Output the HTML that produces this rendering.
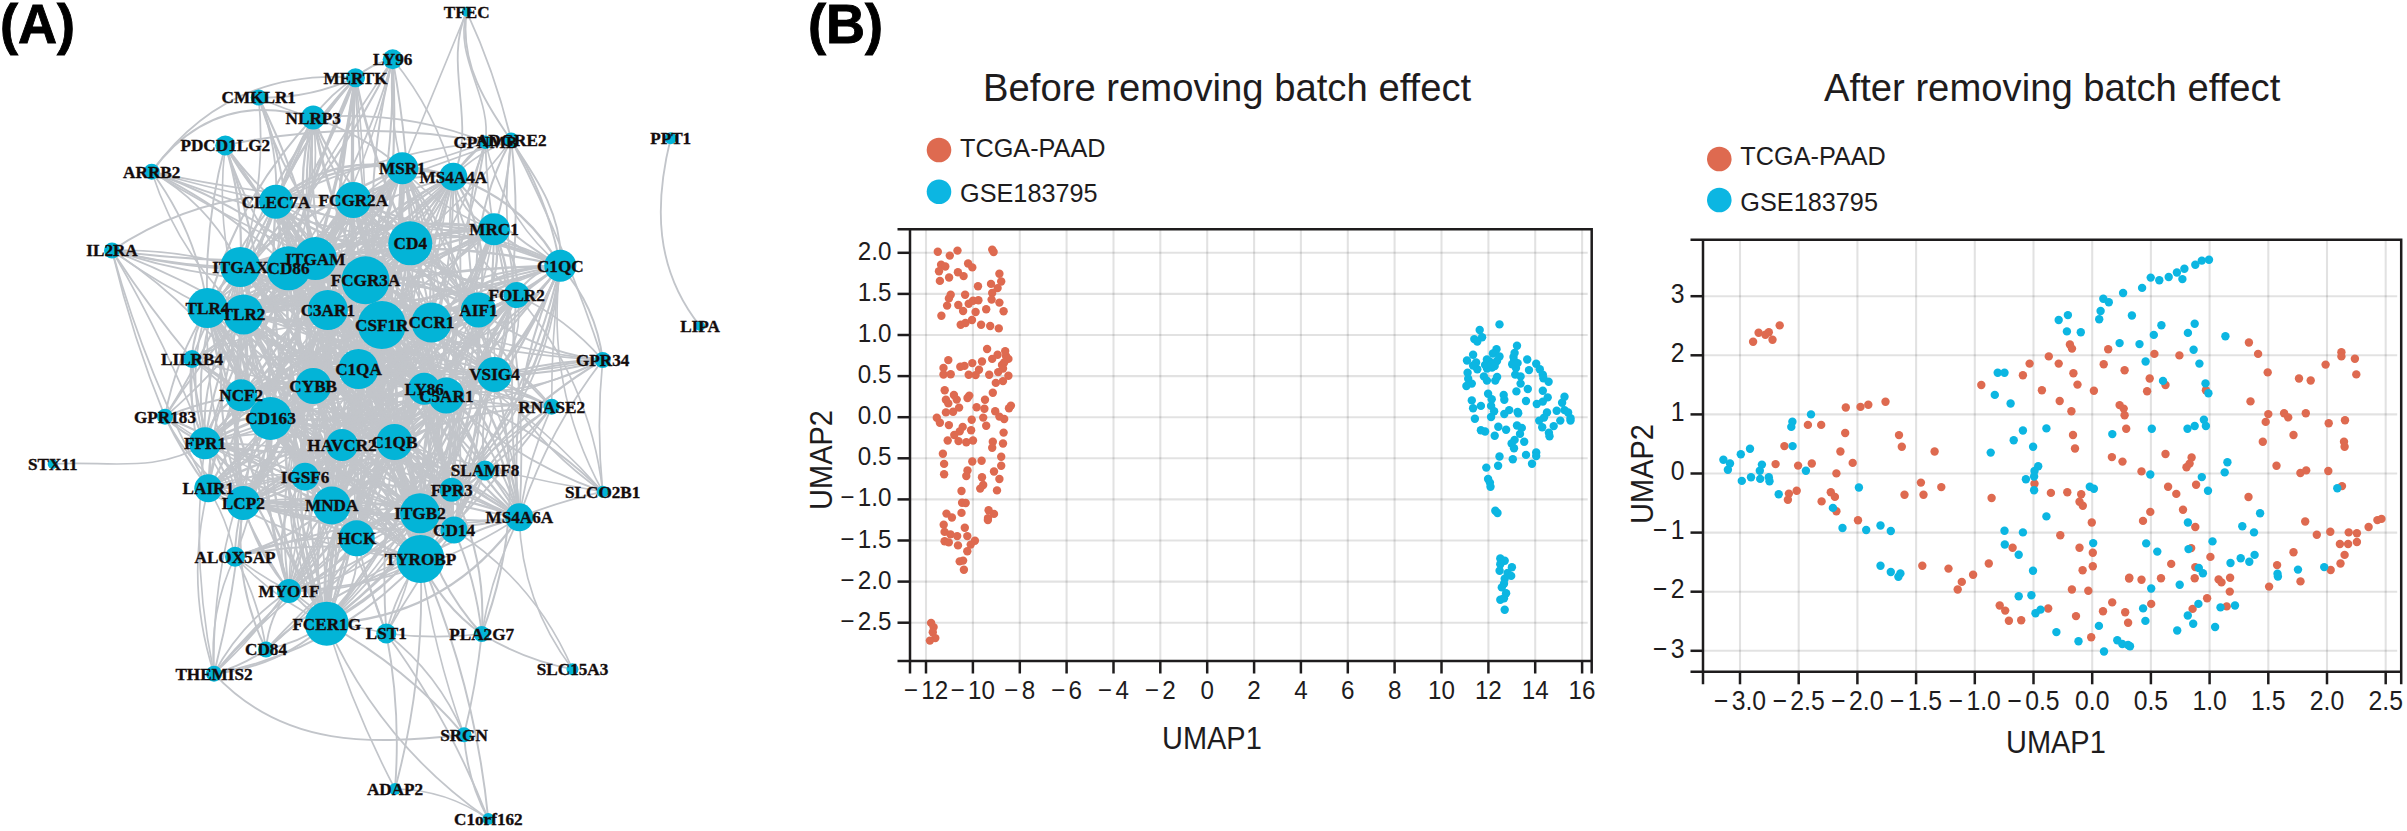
<!DOCTYPE html><html><head><meta charset="utf-8"><style>
html,body{margin:0;padding:0;background:#fff;width:2407px;height:831px;overflow:hidden}
svg{position:absolute;left:0;top:0}
.nl{font-family:"Liberation Serif",serif;font-weight:bold;font-size:17.6px;fill:#140c0c;stroke:#140c0c;stroke-width:0.35}
.pl{font-family:"Liberation Sans",sans-serif;font-size:55.5px;font-weight:bold;fill:#000;stroke:#000;stroke-width:0.9}
.s{font-family:"Liberation Sans",sans-serif;fill:#1e1c1d}
</style></head><body>
<svg width="2407" height="831" viewBox="0 0 2407 831">
<text transform="translate(0,42.6) scale(0.975,1)" class="pl">(A)</text>
<text transform="translate(808,42.6) scale(0.975,1)" class="pl">(B)</text>
<g fill="none" stroke="#c2c5ca" stroke-linecap="round">
<path d="M466.7 11.7Q434.5 90.0 402.3 168.3" stroke-width="1.68"/>
<path d="M466.7 11.7C442.4 65.1 477.6 123.3 453.3 176.7" stroke-width="1.82"/>
<path d="M466.7 11.7C453.4 58.0 492.2 96.8 485.4 142.2" stroke-width="1.66"/>
<path d="M466.7 11.7C452.2 113.2 567.2 167.1 560.3 265.8" stroke-width="1.89"/>
<path d="M466.7 11.7Q495.4 73.6 511.2 140.0" stroke-width="1.72"/>
<path d="M670.7 138.3C654.2 205.0 654.6 269.0 700.0 326.0" stroke-width="1.84"/>
<path d="M52.7 464.0C103.9 460.1 157.5 474.6 205.0 443.3" stroke-width="1.62"/>
<path d="M112.0 250.5Q222.6 177.0 353.3 200.0" stroke-width="2.05"/>
<path d="M112.0 250.5Q175.2 266.4 240.3 267.0" stroke-width="1.71"/>
<path d="M112.0 250.5Q198.8 273.5 288.5 268.3" stroke-width="1.84"/>
<path d="M112.0 250.5Q213.2 264.7 315.3 258.6" stroke-width="2.02"/>
<path d="M112.0 250.5Q235.8 290.8 365.5 280.3" stroke-width="1.83"/>
<path d="M112.0 250.5Q157.4 283.1 207.5 308.0" stroke-width="1.72"/>
<path d="M112.0 250.5Q180.6 276.6 243.5 314.4" stroke-width="1.81"/>
<path d="M112.0 250.5Q148.7 307.1 192.0 359.0" stroke-width="1.88"/>
<path d="M112.0 250.5Q131.9 335.7 165.0 416.7" stroke-width="1.73"/>
<path d="M112.0 250.5Q166.2 343.2 205.0 443.3" stroke-width="1.71"/>
<path d="M112.0 250.5Q145.9 375.2 208.3 488.3" stroke-width="1.76"/>
<path d="M112.0 250.5Q212.0 314.9 270.5 418.5" stroke-width="1.81"/>
<path d="M112.0 250.5Q229.1 246.8 327.8 310.0" stroke-width="1.70"/>
<path d="M151.7 171.7Q213.2 189.2 276.0 201.7" stroke-width="1.69"/>
<path d="M151.7 171.7Q251.4 193.9 353.3 200.0" stroke-width="1.83"/>
<path d="M151.7 171.7Q211.0 205.4 240.3 267.0" stroke-width="1.77"/>
<path d="M151.7 171.7Q197.1 232.7 207.5 308.0" stroke-width="1.90"/>
<path d="M151.7 171.7Q228.0 208.8 288.5 268.3" stroke-width="1.86"/>
<path d="M151.7 171.7Q178.6 255.3 243.5 314.4" stroke-width="1.65"/>
<path d="M151.7 171.7Q285.1 220.9 381.8 325.0" stroke-width="2.00"/>
<path d="M151.7 171.7Q213.5 88.1 313.2 117.6" stroke-width="1.97"/>
<path d="M151.7 171.7Q227.3 67.6 355.5 77.7" stroke-width="1.71"/>
<path d="M151.7 171.7Q277.4 220.4 410.3 243.3" stroke-width="1.86"/>
<path d="M151.7 171.7Q230.7 220.3 315.3 258.6" stroke-width="1.72"/>
<path d="M258.7 97.5Q285.1 109.8 313.2 117.6" stroke-width="1.72"/>
<path d="M258.7 97.5Q278.7 147.7 276.0 201.7" stroke-width="1.88"/>
<path d="M258.7 97.5Q267.0 184.1 240.3 267.0" stroke-width="1.77"/>
<path d="M258.7 97.5Q291.7 179.7 288.5 268.3" stroke-width="2.02"/>
<path d="M258.7 97.5Q309.3 198.5 327.8 310.0" stroke-width="2.06"/>
<path d="M258.7 97.5Q289.4 202.2 365.5 280.3" stroke-width="1.92"/>
<path d="M258.7 97.5Q309.4 99.0 355.5 77.7" stroke-width="1.89"/>
<path d="M225.3 145.4Q247.3 176.5 276.0 201.7" stroke-width="1.88"/>
<path d="M225.3 145.4Q244.1 204.8 240.3 267.0" stroke-width="2.17"/>
<path d="M225.3 145.4Q246.8 212.1 288.5 268.3" stroke-width="1.82"/>
<path d="M225.3 145.4Q214.4 232.1 243.5 314.4" stroke-width="1.61"/>
<path d="M225.3 145.4Q282.4 224.1 327.8 310.0" stroke-width="1.61"/>
<path d="M225.3 145.4Q271.5 278.0 270.5 418.5" stroke-width="2.15"/>
<path d="M225.3 145.4Q262.7 208.1 315.3 258.6" stroke-width="1.64"/>
<path d="M225.3 145.4Q274.8 234.2 365.5 280.3" stroke-width="2.10"/>
<path d="M225.3 145.4Q203.6 225.3 207.5 308.0" stroke-width="1.92"/>
<path d="M485.4 142.2Q465.7 156.1 453.3 176.7" stroke-width="1.68"/>
<path d="M485.4 142.2Q486.3 186.1 494.0 229.3" stroke-width="1.79"/>
<path d="M485.4 142.2Q437.9 185.3 410.3 243.3" stroke-width="1.72"/>
<path d="M485.4 142.2Q469.9 235.8 431.5 322.5" stroke-width="1.95"/>
<path d="M485.4 142.2Q502.5 216.4 560.3 265.8" stroke-width="1.61"/>
<path d="M485.4 142.2Q454.7 245.5 381.8 325.0" stroke-width="1.84"/>
<path d="M485.4 142.2Q455.7 225.0 478.4 310.0" stroke-width="1.90"/>
<path d="M485.4 142.2Q402.3 109.2 313.2 117.6" stroke-width="1.80"/>
<path d="M485.4 142.2Q355.0 117.8 225.3 145.4" stroke-width="1.96"/>
<path d="M485.4 142.2Q444.8 158.2 402.3 168.3" stroke-width="1.69"/>
<path d="M511.2 140.0Q478.2 152.0 453.3 176.7" stroke-width="1.68"/>
<path d="M511.2 140.0Q508.0 185.7 494.0 229.3" stroke-width="1.97"/>
<path d="M511.2 140.0Q468.2 199.0 410.3 243.3" stroke-width="1.69"/>
<path d="M511.2 140.0Q548.1 198.1 560.3 265.8" stroke-width="1.95"/>
<path d="M511.2 140.0Q467.9 219.8 478.4 310.0" stroke-width="2.00"/>
<path d="M511.2 140.0Q499.8 218.0 516.7 295.0" stroke-width="1.76"/>
<path d="M511.2 140.0Q525.3 258.8 494.5 374.5" stroke-width="1.92"/>
<path d="M511.2 140.0Q387.4 147.3 276.0 201.7" stroke-width="1.62"/>
<path d="M511.2 140.0Q429.9 163.7 353.3 200.0" stroke-width="1.83"/>
<path d="M511.2 140.0Q565.8 246.3 602.7 360.0" stroke-width="1.75"/>
<path d="M192.0 359.0Q193.0 331.4 207.5 308.0" stroke-width="2.04"/>
<path d="M192.0 359.0Q223.3 343.1 243.5 314.4" stroke-width="1.63"/>
<path d="M192.0 359.0Q185.4 403.2 205.0 443.3" stroke-width="1.93"/>
<path d="M192.0 359.0Q235.7 382.9 270.5 418.5" stroke-width="2.03"/>
<path d="M192.0 359.0Q218.1 375.2 241.2 395.3" stroke-width="1.68"/>
<path d="M192.0 359.0Q209.8 309.7 240.3 267.0" stroke-width="1.78"/>
<path d="M192.0 359.0Q281.8 313.8 381.8 325.0" stroke-width="1.73"/>
<path d="M192.0 359.0Q188.2 425.2 208.3 488.3" stroke-width="1.86"/>
<path d="M192.0 359.0Q276.1 350.5 358.5 369.0" stroke-width="2.10"/>
<path d="M192.0 359.0Q197.4 438.2 243.3 503.0" stroke-width="2.02"/>
<path d="M192.0 359.0Q253.2 327.4 288.5 268.3" stroke-width="1.87"/>
<path d="M192.0 359.0Q251.2 378.6 313.2 386.0" stroke-width="1.61"/>
<path d="M192.0 359.0Q271.7 422.8 331.7 505.5" stroke-width="1.76"/>
<path d="M165.0 416.7Q182.3 434.0 205.0 443.3" stroke-width="1.95"/>
<path d="M165.0 416.7Q183.1 454.7 208.3 488.3" stroke-width="2.01"/>
<path d="M165.0 416.7Q175.5 358.2 207.5 308.0" stroke-width="1.85"/>
<path d="M165.0 416.7Q218.0 403.8 270.5 418.5" stroke-width="1.88"/>
<path d="M165.0 416.7Q201.9 401.6 241.2 395.3" stroke-width="1.96"/>
<path d="M165.0 416.7Q192.1 470.8 243.3 503.0" stroke-width="1.71"/>
<path d="M165.0 416.7Q210.2 345.6 240.3 267.0" stroke-width="2.04"/>
<path d="M165.0 416.7Q239.3 353.0 288.5 268.3" stroke-width="1.84"/>
<path d="M165.0 416.7Q200.0 362.3 243.5 314.4" stroke-width="1.87"/>
<path d="M165.0 416.7Q243.2 470.8 331.7 505.5" stroke-width="1.62"/>
<path d="M165.0 416.7Q288.5 475.6 420.0 513.3" stroke-width="1.77"/>
<path d="M165.0 416.7Q271.6 460.6 356.7 538.3" stroke-width="1.68"/>
<path d="M602.7 360.0Q596.2 306.3 560.3 265.8" stroke-width="1.99"/>
<path d="M602.7 360.0Q566.6 318.4 516.7 295.0" stroke-width="1.87"/>
<path d="M602.7 360.0Q533.8 351.8 478.4 310.0" stroke-width="2.02"/>
<path d="M602.7 360.0Q549.8 376.0 494.5 374.5" stroke-width="1.87"/>
<path d="M602.7 360.0Q515.0 351.0 431.5 322.5" stroke-width="1.64"/>
<path d="M602.7 360.0Q481.3 383.8 358.5 369.0" stroke-width="1.66"/>
<path d="M602.7 360.0Q547.5 431.5 519.3 517.3" stroke-width="1.81"/>
<path d="M602.7 360.0Q596.1 425.9 602.7 491.7" stroke-width="1.73"/>
<path d="M602.7 360.0Q520.6 360.6 446.3 395.6" stroke-width="2.01"/>
<path d="M602.7 360.0Q490.5 353.6 381.8 325.0" stroke-width="1.83"/>
<path d="M602.7 360.0Q485.1 366.6 394.5 442.0" stroke-width="1.89"/>
<path d="M602.7 360.0Q518.1 403.4 424.1 388.7" stroke-width="1.74"/>
<path d="M602.7 360.0Q481.5 432.0 420.5 559.0" stroke-width="2.04"/>
<path d="M602.7 360.0Q444.1 431.8 270.5 418.5" stroke-width="1.61"/>
<path d="M551.7 406.7Q521.0 394.3 494.5 374.5" stroke-width="1.66"/>
<path d="M551.7 406.7Q498.5 406.2 446.3 395.6" stroke-width="1.96"/>
<path d="M551.7 406.7Q527.9 459.8 519.3 517.3" stroke-width="1.75"/>
<path d="M551.7 406.7Q483.3 452.8 454.0 530.0" stroke-width="2.00"/>
<path d="M551.7 406.7Q503.7 347.3 431.5 322.5" stroke-width="1.71"/>
<path d="M551.7 406.7Q505.7 365.4 478.4 310.0" stroke-width="1.82"/>
<path d="M551.7 406.7Q551.2 336.0 560.3 265.8" stroke-width="1.62"/>
<path d="M551.7 406.7Q496.5 441.9 451.7 489.7" stroke-width="1.64"/>
<path d="M551.7 406.7Q460.9 358.2 358.5 369.0" stroke-width="1.80"/>
<path d="M551.7 406.7Q455.0 390.2 381.8 325.0" stroke-width="1.74"/>
<path d="M551.7 406.7Q433.8 381.3 313.2 386.0" stroke-width="1.60"/>
<path d="M551.7 406.7Q441.9 399.0 342.0 445.0" stroke-width="1.76"/>
<path d="M551.7 406.7Q490.7 377.6 424.1 388.7" stroke-width="2.01"/>
<path d="M551.7 406.7Q469.5 408.5 394.5 442.0" stroke-width="2.04"/>
<path d="M551.7 406.7Q492.5 488.4 420.5 559.0" stroke-width="1.91"/>
<path d="M551.7 406.7Q496.6 473.2 420.0 513.3" stroke-width="1.77"/>
<path d="M602.7 491.7Q560.0 501.4 519.3 517.3" stroke-width="1.79"/>
<path d="M602.7 491.7Q544.8 385.6 560.3 265.8" stroke-width="1.65"/>
<path d="M602.7 491.7Q590.0 380.1 516.7 295.0" stroke-width="1.71"/>
<path d="M602.7 491.7Q535.8 444.9 494.5 374.5" stroke-width="1.86"/>
<path d="M602.7 491.7Q496.8 474.4 394.5 442.0" stroke-width="1.60"/>
<path d="M602.7 491.7Q500.2 391.3 358.5 369.0" stroke-width="1.86"/>
<path d="M602.7 491.7Q513.8 461.0 446.3 395.6" stroke-width="1.84"/>
<path d="M602.7 491.7Q509.2 385.9 381.8 325.0" stroke-width="1.62"/>
<path d="M235.0 556.7Q235.2 529.2 243.3 503.0" stroke-width="1.90"/>
<path d="M235.0 556.7Q227.6 520.2 208.3 488.3" stroke-width="1.61"/>
<path d="M235.0 556.7Q288.4 540.6 331.7 505.5" stroke-width="2.18"/>
<path d="M235.0 556.7Q274.4 599.1 326.7 623.7" stroke-width="1.62"/>
<path d="M235.0 556.7Q328.0 535.1 420.5 559.0" stroke-width="2.04"/>
<path d="M235.0 556.7Q293.8 534.2 356.7 538.3" stroke-width="2.08"/>
<path d="M235.0 556.7Q260.6 576.0 289.0 591.0" stroke-width="1.65"/>
<path d="M235.0 556.7Q260.6 489.6 270.5 418.5" stroke-width="1.78"/>
<path d="M235.0 556.7Q326.2 529.4 420.0 513.3" stroke-width="1.92"/>
<path d="M235.0 556.7Q208.5 612.3 214.0 673.7" stroke-width="1.67"/>
<path d="M266.0 649.5Q299.0 642.8 326.7 623.7" stroke-width="2.00"/>
<path d="M266.0 649.5Q333.3 587.2 420.5 559.0" stroke-width="1.97"/>
<path d="M266.0 649.5Q231.9 579.8 243.3 503.0" stroke-width="1.94"/>
<path d="M266.0 649.5Q259.0 600.3 235.0 556.7" stroke-width="1.73"/>
<path d="M266.0 649.5Q268.7 616.8 289.0 591.0" stroke-width="1.91"/>
<path d="M266.0 649.5Q336.4 573.9 420.0 513.3" stroke-width="1.74"/>
<path d="M266.0 649.5Q324.0 604.2 356.7 538.3" stroke-width="1.76"/>
<path d="M266.0 649.5Q242.1 666.1 214.0 673.7" stroke-width="2.02"/>
<path d="M214.0 673.7Q235.4 589.5 243.3 503.0" stroke-width="1.88"/>
<path d="M214.0 673.7Q184.5 581.8 208.3 488.3" stroke-width="1.71"/>
<path d="M214.0 673.7Q241.0 622.8 289.0 591.0" stroke-width="1.85"/>
<path d="M214.0 673.7Q278.6 667.3 326.7 623.7" stroke-width="2.00"/>
<path d="M214.0 673.7Q336.4 650.9 420.5 559.0" stroke-width="1.86"/>
<path d="M214.0 673.7Q277.5 597.7 356.7 538.3" stroke-width="1.94"/>
<path d="M214.0 673.7C283.9 749.1 373.3 744.4 464.0 734.8" stroke-width="1.92"/>
<path d="M214.0 673.7Q301.4 573.5 420.0 513.3" stroke-width="1.77"/>
<path d="M214.0 673.7Q292.1 603.1 331.7 505.5" stroke-width="1.62"/>
<path d="M214.0 673.7Q210.5 539.1 270.5 418.5" stroke-width="1.70"/>
<path d="M214.0 673.7Q190.0 559.3 205.0 443.3" stroke-width="1.64"/>
<path d="M386.3 633.5Q357.0 625.8 326.7 623.7" stroke-width="1.62"/>
<path d="M386.3 633.5Q395.8 592.8 420.5 559.0" stroke-width="1.85"/>
<path d="M386.3 633.5Q367.9 587.0 356.7 538.3" stroke-width="1.82"/>
<path d="M386.3 633.5Q415.7 576.9 420.0 513.3" stroke-width="1.70"/>
<path d="M386.3 633.5Q364.5 567.1 331.7 505.5" stroke-width="1.86"/>
<path d="M386.3 633.5Q416.8 579.6 454.0 530.0" stroke-width="1.82"/>
<path d="M386.3 633.5Q379.9 537.3 394.5 442.0" stroke-width="1.92"/>
<path d="M386.3 633.5Q434.0 639.6 481.7 634.0" stroke-width="1.71"/>
<path d="M386.3 633.5Q438.6 673.8 464.0 734.8" stroke-width="1.62"/>
<path d="M386.3 633.5Q449.4 719.6 488.3 819.0" stroke-width="1.83"/>
<path d="M481.7 634.0Q440.7 605.0 420.5 559.0" stroke-width="1.94"/>
<path d="M481.7 634.0Q434.2 582.2 420.0 513.3" stroke-width="1.95"/>
<path d="M481.7 634.0Q476.0 579.8 454.0 530.0" stroke-width="1.86"/>
<path d="M481.7 634.0Q491.8 572.8 519.3 517.3" stroke-width="1.75"/>
<path d="M481.7 634.0Q487.0 557.6 451.7 489.7" stroke-width="2.03"/>
<path d="M481.7 634.0Q523.9 659.9 572.5 669.2" stroke-width="1.93"/>
<path d="M481.7 634.0Q476.3 685.0 464.0 734.8" stroke-width="1.87"/>
<path d="M481.7 634.0Q530.5 506.3 494.5 374.5" stroke-width="2.04"/>
<path d="M572.5 669.2Q521.5 601.8 519.3 517.3" stroke-width="1.67"/>
<path d="M572.5 669.2Q534.7 581.3 454.0 530.0" stroke-width="1.67"/>
<path d="M464.0 734.8Q433.5 649.1 420.5 559.0" stroke-width="1.67"/>
<path d="M464.0 734.8Q466.9 779.6 488.3 819.0" stroke-width="1.93"/>
<path d="M464.0 734.8Q405.6 666.6 326.7 623.7" stroke-width="1.98"/>
<path d="M395.0 789.0Q353.4 709.4 326.7 623.7" stroke-width="1.67"/>
<path d="M395.0 789.0Q401.2 710.7 386.3 633.5" stroke-width="1.89"/>
<path d="M395.0 789.0Q446.3 789.6 488.3 819.0" stroke-width="1.69"/>
<path d="M395.0 789.0Q425.5 676.0 420.5 559.0" stroke-width="1.88"/>
<path d="M488.3 819.0Q474.8 683.7 420.5 559.0" stroke-width="1.94"/>
<path d="M488.3 819.0Q380.4 743.8 326.7 623.7" stroke-width="1.76"/>
<path d="M355.5 77.7Q350.7 138.8 353.3 200.0" stroke-width="3.20"/>
<path d="M355.5 77.7Q312.5 169.7 288.5 268.3" stroke-width="3.00"/>
<path d="M355.5 77.7Q342.6 169.8 315.3 258.6" stroke-width="3.20"/>
<path d="M355.5 77.7Q305.6 133.2 276.0 201.7" stroke-width="2.13"/>
<path d="M355.5 77.7Q330.4 93.4 313.2 117.6" stroke-width="1.87"/>
<path d="M355.5 77.7Q265.8 180.1 243.5 314.4" stroke-width="1.79"/>
<path d="M355.5 77.7Q276.7 159.4 240.3 267.0" stroke-width="2.11"/>
<path d="M355.5 77.7Q309.0 210.6 207.5 308.0" stroke-width="2.03"/>
<path d="M355.5 77.7Q337.0 193.3 327.8 310.0" stroke-width="2.80"/>
<path d="M355.5 77.7Q368.1 178.6 365.5 280.3" stroke-width="1.62"/>
<path d="M355.5 77.7Q373.0 163.8 410.3 243.3" stroke-width="2.60"/>
<path d="M355.5 77.7Q359.7 202.3 381.8 325.0" stroke-width="1.88"/>
<path d="M355.5 77.7Q345.6 223.5 358.5 369.0" stroke-width="1.75"/>
<path d="M355.5 77.7Q371.6 63.5 392.7 59.3" stroke-width="2.05"/>
<path d="M392.7 59.3Q409.3 150.6 410.3 243.3" stroke-width="1.93"/>
<path d="M392.7 59.3Q388.3 114.6 402.3 168.3" stroke-width="1.64"/>
<path d="M392.7 59.3Q322.5 200.3 207.5 308.0" stroke-width="2.00"/>
<path d="M392.7 59.3Q310.1 182.2 243.5 314.4" stroke-width="1.67"/>
<path d="M392.7 59.3Q361.5 174.2 288.5 268.3" stroke-width="1.81"/>
<path d="M392.7 59.3Q394.2 171.7 365.5 280.3" stroke-width="1.94"/>
<path d="M392.7 59.3Q358.9 191.0 381.8 325.0" stroke-width="1.96"/>
<path d="M392.7 59.3Q370.6 165.4 315.3 258.6" stroke-width="1.61"/>
<path d="M392.7 59.3Q435.7 111.5 453.3 176.7" stroke-width="1.72"/>
<path d="M392.7 59.3Q401.8 217.0 358.5 369.0" stroke-width="2.13"/>
<path d="M313.2 117.6Q290.3 157.8 276.0 201.7" stroke-width="1.72"/>
<path d="M313.2 117.6Q324.9 162.9 353.3 200.0" stroke-width="1.84"/>
<path d="M313.2 117.6Q282.1 194.9 240.3 267.0" stroke-width="2.06"/>
<path d="M313.2 117.6Q323.2 196.6 288.5 268.3" stroke-width="1.71"/>
<path d="M313.2 117.6Q291.3 188.4 315.3 258.6" stroke-width="2.26"/>
<path d="M313.2 117.6Q264.3 211.0 243.5 314.4" stroke-width="1.93"/>
<path d="M313.2 117.6Q236.3 199.4 207.5 308.0" stroke-width="2.09"/>
<path d="M313.2 117.6Q294.9 215.7 327.8 310.0" stroke-width="2.06"/>
<path d="M313.2 117.6Q334.3 225.7 381.8 325.0" stroke-width="2.06"/>
<path d="M313.2 117.6Q344.5 193.8 410.3 243.3" stroke-width="2.26"/>
<path d="M313.2 117.6Q327.0 202.9 365.5 280.3" stroke-width="1.97"/>
<path d="M313.2 117.6Q302.8 251.8 313.2 386.0" stroke-width="2.19"/>
<path d="M313.2 117.6Q304.0 249.0 358.5 369.0" stroke-width="2.05"/>
<path d="M313.2 117.6Q362.7 134.3 402.3 168.3" stroke-width="1.66"/>
<path d="M485.0 470.5Q456.1 497.4 420.0 513.3" stroke-width="2.03"/>
<path d="M485.0 470.5Q466.6 524.9 420.5 559.0" stroke-width="1.99"/>
<path d="M485.0 470.5Q463.4 497.1 454.0 530.0" stroke-width="1.86"/>
<path d="M485.0 470.5Q465.9 475.9 451.7 489.7" stroke-width="1.64"/>
<path d="M485.0 470.5Q509.1 488.8 519.3 517.3" stroke-width="1.92"/>
<path d="M485.0 470.5Q470.8 430.4 446.3 395.6" stroke-width="2.00"/>
<path d="M485.0 470.5Q477.8 421.3 494.5 374.5" stroke-width="1.90"/>
<path d="M485.0 470.5Q437.6 463.2 394.5 442.0" stroke-width="1.87"/>
<path d="M485.0 470.5Q411.5 468.9 342.0 445.0" stroke-width="1.94"/>
<path d="M485.0 470.5Q451.3 385.1 381.8 325.0" stroke-width="1.80"/>
<path d="M485.0 470.5Q423.6 565.4 326.7 623.7" stroke-width="1.63"/>
<path d="M485.0 470.5Q466.0 421.1 424.1 388.7" stroke-width="1.94"/>
<path d="M402.3 168.3Q428.4 168.6 453.3 176.7" stroke-width="1.77"/>
<path d="M402.3 168.3Q330.8 153.6 276.0 201.7" stroke-width="2.49"/>
<path d="M402.3 168.3Q384.4 194.4 353.3 200.0" stroke-width="1.63"/>
<path d="M402.3 168.3Q440.4 210.5 494.0 229.3" stroke-width="1.69"/>
<path d="M402.3 168.3Q426.9 203.6 410.3 243.3" stroke-width="2.09"/>
<path d="M402.3 168.3Q507.4 174.8 560.3 265.8" stroke-width="2.29"/>
<path d="M402.3 168.3Q313.5 204.9 240.3 267.0" stroke-width="2.34"/>
<path d="M402.3 168.3Q371.7 248.3 288.5 268.3" stroke-width="2.17"/>
<path d="M402.3 168.3Q344.8 199.9 315.3 258.6" stroke-width="1.63"/>
<path d="M402.3 168.3Q411.1 233.2 365.5 280.3" stroke-width="2.52"/>
<path d="M402.3 168.3Q320.6 260.0 207.5 308.0" stroke-width="2.38"/>
<path d="M402.3 168.3Q343.2 263.4 243.5 314.4" stroke-width="2.18"/>
<path d="M402.3 168.3Q343.5 227.8 327.8 310.0" stroke-width="1.94"/>
<path d="M402.3 168.3Q356.2 242.0 381.8 325.0" stroke-width="2.07"/>
<path d="M402.3 168.3Q390.1 250.5 431.5 322.5" stroke-width="1.90"/>
<path d="M402.3 168.3Q421.0 249.5 478.4 310.0" stroke-width="1.66"/>
<path d="M402.3 168.3Q461.3 265.6 494.5 374.5" stroke-width="1.82"/>
<path d="M402.3 168.3Q322.4 262.7 313.2 386.0" stroke-width="2.30"/>
<path d="M402.3 168.3Q396.4 287.4 446.3 395.6" stroke-width="2.29"/>
<path d="M402.3 168.3Q286.3 267.0 270.5 418.5" stroke-width="1.71"/>
<path d="M402.3 168.3Q319.9 317.5 205.0 443.3" stroke-width="2.21"/>
<path d="M402.3 168.3Q399.4 312.6 342.0 445.0" stroke-width="1.72"/>
<path d="M402.3 168.3Q439.4 306.3 394.5 442.0" stroke-width="1.96"/>
<path d="M402.3 168.3Q344.4 352.0 208.3 488.3" stroke-width="1.83"/>
<path d="M402.3 168.3Q441.4 352.5 331.7 505.5" stroke-width="1.82"/>
<path d="M402.3 168.3Q477.7 337.4 420.0 513.3" stroke-width="1.61"/>
<path d="M402.3 168.3Q378.4 370.4 519.3 517.3" stroke-width="1.66"/>
<path d="M402.3 168.3Q526.6 335.1 454.0 530.0" stroke-width="2.07"/>
<path d="M402.3 168.3Q344.2 348.9 356.7 538.3" stroke-width="1.92"/>
<path d="M402.3 168.3Q498.8 359.6 420.5 559.0" stroke-width="2.22"/>
<path d="M402.3 168.3Q391.4 400.5 326.7 623.7" stroke-width="2.22"/>
<path d="M453.3 176.7Q358.5 145.8 276.0 201.7" stroke-width="2.15"/>
<path d="M453.3 176.7Q399.5 172.2 353.3 200.0" stroke-width="2.07"/>
<path d="M453.3 176.7Q459.2 214.2 494.0 229.3" stroke-width="1.88"/>
<path d="M453.3 176.7Q438.1 214.0 410.3 243.3" stroke-width="2.10"/>
<path d="M453.3 176.7Q499.4 230.2 560.3 265.8" stroke-width="2.10"/>
<path d="M453.3 176.7Q367.1 269.7 240.3 267.0" stroke-width="2.26"/>
<path d="M453.3 176.7Q358.5 200.1 288.5 268.3" stroke-width="1.75"/>
<path d="M453.3 176.7Q405.4 253.2 315.3 258.6" stroke-width="1.69"/>
<path d="M453.3 176.7Q382.6 205.8 365.5 280.3" stroke-width="1.85"/>
<path d="M453.3 176.7Q368.3 275.8 243.5 314.4" stroke-width="2.11"/>
<path d="M453.3 176.7Q435.5 259.5 381.8 325.0" stroke-width="1.95"/>
<path d="M453.3 176.7Q434.4 248.4 431.5 322.5" stroke-width="1.63"/>
<path d="M453.3 176.7Q493.1 238.2 478.4 310.0" stroke-width="2.30"/>
<path d="M453.3 176.7Q459.4 249.6 516.7 295.0" stroke-width="1.81"/>
<path d="M453.3 176.7Q394.8 267.4 358.5 369.0" stroke-width="2.36"/>
<path d="M453.3 176.7Q437.6 283.2 494.5 374.5" stroke-width="1.69"/>
<path d="M453.3 176.7Q349.1 258.5 313.2 386.0" stroke-width="1.70"/>
<path d="M453.3 176.7Q410.9 284.9 446.3 395.6" stroke-width="2.07"/>
<path d="M453.3 176.7Q297.8 249.2 270.5 418.5" stroke-width="2.41"/>
<path d="M453.3 176.7Q268.2 288.3 243.3 503.0" stroke-width="2.32"/>
<path d="M453.3 176.7Q377.8 339.2 420.0 513.3" stroke-width="1.76"/>
<path d="M453.3 176.7Q454.6 416.9 289.0 591.0" stroke-width="1.97"/>
<path d="M453.3 176.7Q491.3 428.9 326.7 623.7" stroke-width="1.82"/>
<path d="M276.0 201.7Q314.9 213.2 353.3 200.0" stroke-width="1.64"/>
<path d="M276.0 201.7Q382.5 235.2 494.0 229.3" stroke-width="1.72"/>
<path d="M276.0 201.7Q332.8 255.8 410.3 243.3" stroke-width="2.30"/>
<path d="M276.0 201.7Q422.4 214.8 560.3 265.8" stroke-width="1.75"/>
<path d="M276.0 201.7Q269.3 240.4 240.3 267.0" stroke-width="1.77"/>
<path d="M276.0 201.7Q288.7 233.8 288.5 268.3" stroke-width="2.02"/>
<path d="M276.0 201.7Q303.3 224.9 315.3 258.6" stroke-width="1.85"/>
<path d="M276.0 201.7Q306.0 257.8 365.5 280.3" stroke-width="1.66"/>
<path d="M276.0 201.7Q256.8 264.6 207.5 308.0" stroke-width="1.86"/>
<path d="M276.0 201.7Q290.4 266.9 243.5 314.4" stroke-width="1.92"/>
<path d="M276.0 201.7Q308.1 252.9 327.8 310.0" stroke-width="1.93"/>
<path d="M276.0 201.7Q318.9 271.9 381.8 325.0" stroke-width="1.81"/>
<path d="M276.0 201.7Q364.9 247.8 431.5 322.5" stroke-width="1.75"/>
<path d="M276.0 201.7Q393.3 225.7 478.4 310.0" stroke-width="1.74"/>
<path d="M276.0 201.7Q284.3 301.6 358.5 369.0" stroke-width="2.52"/>
<path d="M276.0 201.7Q311.8 290.4 313.2 386.0" stroke-width="2.07"/>
<path d="M276.0 201.7Q338.0 304.8 424.1 388.7" stroke-width="2.41"/>
<path d="M276.0 201.7Q326.9 328.7 446.3 395.6" stroke-width="2.50"/>
<path d="M276.0 201.7Q182.8 305.6 205.0 443.3" stroke-width="1.99"/>
<path d="M276.0 201.7Q357.6 310.2 342.0 445.0" stroke-width="2.10"/>
<path d="M276.0 201.7Q378.5 300.5 394.5 442.0" stroke-width="1.69"/>
<path d="M276.0 201.7Q264.3 342.0 305.0 476.7" stroke-width="2.29"/>
<path d="M276.0 201.7Q216.2 347.6 243.3 503.0" stroke-width="2.04"/>
<path d="M276.0 201.7Q320.9 350.5 331.7 505.5" stroke-width="2.26"/>
<path d="M276.0 201.7Q396.7 335.0 420.0 513.3" stroke-width="2.27"/>
<path d="M276.0 201.7Q331.2 410.8 519.3 517.3" stroke-width="1.85"/>
<path d="M276.0 201.7Q380.7 367.2 420.5 559.0" stroke-width="2.57"/>
<path d="M276.0 201.7Q365.7 405.0 326.7 623.7" stroke-width="1.99"/>
<path d="M353.3 200.0Q420.3 230.6 494.0 229.3" stroke-width="1.95"/>
<path d="M353.3 200.0Q392.7 207.3 410.3 243.3" stroke-width="2.38"/>
<path d="M353.3 200.0Q311.4 258.2 240.3 267.0" stroke-width="2.18"/>
<path d="M353.3 200.0Q333.6 246.2 288.5 268.3" stroke-width="2.65"/>
<path d="M353.3 200.0Q323.9 222.6 315.3 258.6" stroke-width="2.36"/>
<path d="M353.3 200.0Q353.5 241.1 365.5 280.3" stroke-width="1.88"/>
<path d="M353.3 200.0Q307.2 290.2 207.5 308.0" stroke-width="2.24"/>
<path d="M353.3 200.0Q321.0 278.9 243.5 314.4" stroke-width="2.40"/>
<path d="M353.3 200.0Q314.1 248.9 327.8 310.0" stroke-width="1.90"/>
<path d="M353.3 200.0Q401.1 254.8 381.8 325.0" stroke-width="2.21"/>
<path d="M353.3 200.0Q362.7 280.2 431.5 322.5" stroke-width="2.43"/>
<path d="M353.3 200.0Q427.6 241.6 478.4 310.0" stroke-width="2.13"/>
<path d="M353.3 200.0Q418.1 276.5 516.7 295.0" stroke-width="1.72"/>
<path d="M353.3 200.0Q400.3 283.1 358.5 369.0" stroke-width="1.77"/>
<path d="M353.3 200.0Q438.4 275.5 494.5 374.5" stroke-width="2.48"/>
<path d="M353.3 200.0Q342.8 295.1 313.2 386.0" stroke-width="1.89"/>
<path d="M353.3 200.0Q406.9 287.5 424.1 388.7" stroke-width="2.01"/>
<path d="M353.3 200.0Q385.1 304.8 446.3 395.6" stroke-width="2.44"/>
<path d="M353.3 200.0Q313.4 306.9 241.2 395.3" stroke-width="2.45"/>
<path d="M353.3 200.0Q280.9 297.5 270.5 418.5" stroke-width="1.87"/>
<path d="M353.3 200.0Q392.7 324.6 342.0 445.0" stroke-width="2.44"/>
<path d="M353.3 200.0Q392.7 317.8 394.5 442.0" stroke-width="2.37"/>
<path d="M353.3 200.0Q354.9 342.8 305.0 476.7" stroke-width="2.02"/>
<path d="M353.3 200.0Q241.4 324.4 208.3 488.3" stroke-width="2.02"/>
<path d="M353.3 200.0Q336.7 367.2 451.7 489.7" stroke-width="2.05"/>
<path d="M353.3 200.0Q352.5 371.2 243.3 503.0" stroke-width="1.67"/>
<path d="M353.3 200.0Q394.9 380.3 519.3 517.3" stroke-width="1.73"/>
<path d="M353.3 200.0Q486.3 339.8 454.0 530.0" stroke-width="1.82"/>
<path d="M353.3 200.0Q306.2 369.6 356.7 538.3" stroke-width="1.71"/>
<path d="M353.3 200.0Q478.3 362.4 420.5 559.0" stroke-width="1.70"/>
<path d="M353.3 200.0Q417.9 411.4 289.0 591.0" stroke-width="1.77"/>
<path d="M353.3 200.0Q232.2 405.1 326.7 623.7" stroke-width="2.55"/>
<path d="M494.0 229.3Q451.1 230.2 410.3 243.3" stroke-width="1.66"/>
<path d="M494.0 229.3Q523.5 254.1 560.3 265.8" stroke-width="2.15"/>
<path d="M494.0 229.3Q370.4 270.1 240.3 267.0" stroke-width="2.32"/>
<path d="M494.0 229.3Q398.8 208.3 315.3 258.6" stroke-width="1.70"/>
<path d="M494.0 229.3Q434.5 266.7 365.5 280.3" stroke-width="2.13"/>
<path d="M494.0 229.3Q333.0 203.9 207.5 308.0" stroke-width="1.99"/>
<path d="M494.0 229.3Q374.8 289.7 243.5 314.4" stroke-width="2.50"/>
<path d="M494.0 229.3Q389.8 226.2 327.8 310.0" stroke-width="2.46"/>
<path d="M494.0 229.3Q438.5 259.7 431.5 322.5" stroke-width="2.47"/>
<path d="M494.0 229.3Q504.5 273.2 478.4 310.0" stroke-width="2.25"/>
<path d="M494.0 229.3Q520.4 256.9 516.7 295.0" stroke-width="2.23"/>
<path d="M494.0 229.3Q394.1 267.9 358.5 369.0" stroke-width="2.37"/>
<path d="M494.0 229.3Q524.1 301.8 494.5 374.5" stroke-width="2.41"/>
<path d="M494.0 229.3Q469.5 313.6 424.1 388.7" stroke-width="2.10"/>
<path d="M494.0 229.3Q377.2 326.9 241.2 395.3" stroke-width="1.84"/>
<path d="M494.0 229.3Q429.9 380.2 270.5 418.5" stroke-width="2.05"/>
<path d="M494.0 229.3Q430.8 423.1 243.3 503.0" stroke-width="1.71"/>
<path d="M494.0 229.3Q434.6 380.2 331.7 505.5" stroke-width="1.84"/>
<path d="M494.0 229.3Q422.5 362.3 420.0 513.3" stroke-width="2.29"/>
<path d="M494.0 229.3Q528.8 371.4 519.3 517.3" stroke-width="1.86"/>
<path d="M494.0 229.3Q491.4 382.0 454.0 530.0" stroke-width="2.07"/>
<path d="M494.0 229.3Q464.4 401.1 356.7 538.3" stroke-width="1.64"/>
<path d="M494.0 229.3Q423.0 386.5 420.5 559.0" stroke-width="2.01"/>
<path d="M410.3 243.3Q489.9 223.9 560.3 265.8" stroke-width="1.90"/>
<path d="M410.3 243.3Q322.8 237.2 240.3 267.0" stroke-width="2.33"/>
<path d="M410.3 243.3Q350.8 262.5 288.5 268.3" stroke-width="2.70"/>
<path d="M410.3 243.3Q363.7 256.4 315.3 258.6" stroke-width="1.64"/>
<path d="M410.3 243.3Q378.2 250.1 365.5 280.3" stroke-width="1.95"/>
<path d="M410.3 243.3Q319.3 308.2 207.5 308.0" stroke-width="2.04"/>
<path d="M410.3 243.3Q322.4 268.3 243.5 314.4" stroke-width="2.45"/>
<path d="M410.3 243.3Q380.3 290.6 327.8 310.0" stroke-width="2.59"/>
<path d="M410.3 243.3Q379.9 278.5 381.8 325.0" stroke-width="1.91"/>
<path d="M410.3 243.3Q441.7 277.3 431.5 322.5" stroke-width="1.85"/>
<path d="M410.3 243.3Q457.2 263.5 478.4 310.0" stroke-width="1.72"/>
<path d="M410.3 243.3Q455.7 285.2 516.7 295.0" stroke-width="2.14"/>
<path d="M410.3 243.3Q354.9 294.0 358.5 369.0" stroke-width="1.88"/>
<path d="M410.3 243.3Q479.1 291.7 494.5 374.5" stroke-width="2.11"/>
<path d="M410.3 243.3Q336.0 297.1 313.2 386.0" stroke-width="1.95"/>
<path d="M410.3 243.3Q441.0 313.7 424.1 388.7" stroke-width="2.03"/>
<path d="M410.3 243.3Q399.1 326.3 446.3 395.6" stroke-width="2.13"/>
<path d="M410.3 243.3Q316.6 311.9 270.5 418.5" stroke-width="2.09"/>
<path d="M410.3 243.3Q320.6 325.4 342.0 445.0" stroke-width="1.92"/>
<path d="M410.3 243.3Q375.5 340.5 394.5 442.0" stroke-width="1.89"/>
<path d="M410.3 243.3Q324.4 378.2 208.3 488.3" stroke-width="2.14"/>
<path d="M410.3 243.3Q350.6 368.3 331.7 505.5" stroke-width="1.90"/>
<path d="M410.3 243.3Q343.9 380.9 420.0 513.3" stroke-width="2.73"/>
<path d="M410.3 243.3Q400.6 393.9 356.7 538.3" stroke-width="2.24"/>
<path d="M410.3 243.3Q377.3 402.4 420.5 559.0" stroke-width="2.76"/>
<path d="M410.3 243.3Q292.5 397.2 289.0 591.0" stroke-width="1.65"/>
<path d="M560.3 265.8Q423.8 202.1 288.5 268.3" stroke-width="2.52"/>
<path d="M560.3 265.8Q438.6 235.9 315.3 258.6" stroke-width="2.37"/>
<path d="M560.3 265.8Q398.5 267.9 243.5 314.4" stroke-width="2.44"/>
<path d="M560.3 265.8Q446.7 301.9 327.8 310.0" stroke-width="2.36"/>
<path d="M560.3 265.8Q462.4 269.2 381.8 325.0" stroke-width="1.81"/>
<path d="M560.3 265.8Q484.5 268.2 431.5 322.5" stroke-width="2.47"/>
<path d="M560.3 265.8Q531.7 270.2 516.7 295.0" stroke-width="2.09"/>
<path d="M560.3 265.8Q484.2 365.8 358.5 369.0" stroke-width="2.07"/>
<path d="M560.3 265.8Q536.5 325.7 494.5 374.5" stroke-width="2.28"/>
<path d="M560.3 265.8Q424.8 301.2 313.2 386.0" stroke-width="2.13"/>
<path d="M560.3 265.8Q415.8 367.6 241.2 395.3" stroke-width="2.48"/>
<path d="M560.3 265.8Q451.9 411.4 270.5 418.5" stroke-width="1.93"/>
<path d="M560.3 265.8Q356.5 302.3 205.0 443.3" stroke-width="1.94"/>
<path d="M560.3 265.8Q410.2 305.6 342.0 445.0" stroke-width="1.70"/>
<path d="M560.3 265.8Q458.3 335.9 394.5 442.0" stroke-width="2.27"/>
<path d="M560.3 265.8Q488.4 438.7 305.0 476.7" stroke-width="2.32"/>
<path d="M560.3 265.8Q356.7 333.3 208.3 488.3" stroke-width="1.67"/>
<path d="M560.3 265.8Q549.3 398.8 451.7 489.7" stroke-width="1.77"/>
<path d="M560.3 265.8Q459.4 398.5 331.7 505.5" stroke-width="2.09"/>
<path d="M560.3 265.8Q539.8 417.7 420.0 513.3" stroke-width="2.53"/>
<path d="M560.3 265.8Q504.9 385.9 519.3 517.3" stroke-width="2.04"/>
<path d="M560.3 265.8Q492.4 427.4 356.7 538.3" stroke-width="2.26"/>
<path d="M560.3 265.8Q507.6 486.6 326.7 623.7" stroke-width="2.05"/>
<path d="M240.3 267.0Q264.2 274.7 288.5 268.3" stroke-width="1.93"/>
<path d="M240.3 267.0Q277.1 256.2 315.3 258.6" stroke-width="2.38"/>
<path d="M240.3 267.0Q304.1 262.7 365.5 280.3" stroke-width="2.64"/>
<path d="M240.3 267.0Q219.4 283.9 207.5 308.0" stroke-width="2.42"/>
<path d="M240.3 267.0Q233.0 291.3 243.5 314.4" stroke-width="2.12"/>
<path d="M240.3 267.0Q279.2 298.3 327.8 310.0" stroke-width="2.73"/>
<path d="M240.3 267.0Q326.9 257.4 381.8 325.0" stroke-width="2.44"/>
<path d="M240.3 267.0Q346.1 259.5 431.5 322.5" stroke-width="1.82"/>
<path d="M240.3 267.0Q355.2 311.3 478.4 310.0" stroke-width="2.07"/>
<path d="M240.3 267.0Q313.0 302.3 358.5 369.0" stroke-width="2.50"/>
<path d="M240.3 267.0Q397.1 250.5 494.5 374.5" stroke-width="2.58"/>
<path d="M240.3 267.0Q293.2 316.4 313.2 386.0" stroke-width="2.02"/>
<path d="M240.3 267.0Q311.3 359.5 424.1 388.7" stroke-width="1.93"/>
<path d="M240.3 267.0Q355.9 311.1 446.3 395.6" stroke-width="2.00"/>
<path d="M240.3 267.0Q222.4 331.3 241.2 395.3" stroke-width="2.08"/>
<path d="M240.3 267.0Q243.5 345.1 270.5 418.5" stroke-width="2.18"/>
<path d="M240.3 267.0Q238.7 358.4 205.0 443.3" stroke-width="2.07"/>
<path d="M240.3 267.0Q267.2 369.7 342.0 445.0" stroke-width="1.80"/>
<path d="M240.3 267.0Q278.2 389.0 394.5 442.0" stroke-width="1.99"/>
<path d="M240.3 267.0Q247.3 379.7 305.0 476.7" stroke-width="2.20"/>
<path d="M240.3 267.0Q200.1 385.5 243.3 503.0" stroke-width="2.05"/>
<path d="M240.3 267.0Q341.1 365.1 331.7 505.5" stroke-width="1.61"/>
<path d="M240.3 267.0Q365.7 364.2 420.0 513.3" stroke-width="2.00"/>
<path d="M240.3 267.0Q351.1 424.1 519.3 517.3" stroke-width="2.06"/>
<path d="M240.3 267.0Q273.0 413.6 356.7 538.3" stroke-width="2.17"/>
<path d="M240.3 267.0Q351.5 400.0 420.5 559.0" stroke-width="2.22"/>
<path d="M240.3 267.0Q245.4 431.9 289.0 591.0" stroke-width="2.13"/>
<path d="M288.5 268.3Q300.7 260.0 315.3 258.6" stroke-width="1.77"/>
<path d="M288.5 268.3Q328.3 266.3 365.5 280.3" stroke-width="2.06"/>
<path d="M288.5 268.3Q252.8 297.8 207.5 308.0" stroke-width="1.98"/>
<path d="M288.5 268.3Q277.9 303.0 243.5 314.4" stroke-width="2.01"/>
<path d="M288.5 268.3Q317.4 280.4 327.8 310.0" stroke-width="1.78"/>
<path d="M288.5 268.3Q347.8 275.9 381.8 325.0" stroke-width="2.78"/>
<path d="M288.5 268.3Q363.6 285.9 431.5 322.5" stroke-width="1.97"/>
<path d="M288.5 268.3Q394.7 237.8 478.4 310.0" stroke-width="2.40"/>
<path d="M288.5 268.3Q405.8 254.6 516.7 295.0" stroke-width="2.00"/>
<path d="M288.5 268.3Q345.2 303.6 358.5 369.0" stroke-width="1.86"/>
<path d="M288.5 268.3Q371.7 359.8 494.5 374.5" stroke-width="1.65"/>
<path d="M288.5 268.3Q289.4 329.5 313.2 386.0" stroke-width="1.61"/>
<path d="M288.5 268.3Q369.9 313.2 424.1 388.7" stroke-width="2.47"/>
<path d="M288.5 268.3Q355.4 346.8 446.3 395.6" stroke-width="2.33"/>
<path d="M288.5 268.3Q232.2 319.7 241.2 395.3" stroke-width="2.37"/>
<path d="M288.5 268.3Q263.3 341.5 270.5 418.5" stroke-width="2.56"/>
<path d="M288.5 268.3Q197.9 332.5 205.0 443.3" stroke-width="1.83"/>
<path d="M288.5 268.3Q295.6 362.6 342.0 445.0" stroke-width="2.27"/>
<path d="M288.5 268.3Q331.2 361.5 394.5 442.0" stroke-width="2.32"/>
<path d="M288.5 268.3Q354.2 367.9 305.0 476.7" stroke-width="1.64"/>
<path d="M288.5 268.3Q325.4 397.1 243.3 503.0" stroke-width="2.56"/>
<path d="M288.5 268.3Q279.9 392.4 331.7 505.5" stroke-width="2.59"/>
<path d="M288.5 268.3Q338.1 399.5 420.0 513.3" stroke-width="1.80"/>
<path d="M288.5 268.3Q335.7 456.1 519.3 517.3" stroke-width="1.73"/>
<path d="M288.5 268.3Q402.3 391.9 420.5 559.0" stroke-width="2.84"/>
<path d="M288.5 268.3Q350.7 429.6 289.0 591.0" stroke-width="2.10"/>
<path d="M288.5 268.3Q404.2 435.6 326.7 623.7" stroke-width="2.04"/>
<path d="M315.3 258.6Q346.1 256.3 365.5 280.3" stroke-width="2.76"/>
<path d="M315.3 258.6Q268.3 298.4 207.5 308.0" stroke-width="2.53"/>
<path d="M315.3 258.6Q267.9 271.7 243.5 314.4" stroke-width="2.05"/>
<path d="M315.3 258.6Q312.8 286.4 327.8 310.0" stroke-width="1.61"/>
<path d="M315.3 258.6Q360.0 280.4 381.8 325.0" stroke-width="2.08"/>
<path d="M315.3 258.6Q361.8 311.6 431.5 322.5" stroke-width="2.11"/>
<path d="M315.3 258.6Q401.1 270.9 478.4 310.0" stroke-width="2.42"/>
<path d="M315.3 258.6Q412.7 294.9 516.7 295.0" stroke-width="2.32"/>
<path d="M315.3 258.6Q363.2 303.5 358.5 369.0" stroke-width="1.60"/>
<path d="M315.3 258.6Q413.7 303.0 494.5 374.5" stroke-width="1.83"/>
<path d="M315.3 258.6Q280.4 321.7 313.2 386.0" stroke-width="1.69"/>
<path d="M315.3 258.6Q336.2 351.6 424.1 388.7" stroke-width="1.82"/>
<path d="M315.3 258.6Q255.8 314.8 241.2 395.3" stroke-width="2.40"/>
<path d="M315.3 258.6Q330.5 349.1 270.5 418.5" stroke-width="1.82"/>
<path d="M315.3 258.6Q307.5 379.2 205.0 443.3" stroke-width="1.81"/>
<path d="M315.3 258.6Q364.8 346.6 342.0 445.0" stroke-width="2.06"/>
<path d="M315.3 258.6Q316.9 366.7 394.5 442.0" stroke-width="2.61"/>
<path d="M315.3 258.6Q211.7 350.1 208.3 488.3" stroke-width="1.94"/>
<path d="M315.3 258.6Q409.0 359.1 451.7 489.7" stroke-width="2.24"/>
<path d="M315.3 258.6Q318.6 392.4 243.3 503.0" stroke-width="2.17"/>
<path d="M315.3 258.6Q342.3 380.8 331.7 505.5" stroke-width="2.29"/>
<path d="M315.3 258.6Q477.7 340.3 519.3 517.3" stroke-width="2.25"/>
<path d="M315.3 258.6Q438.1 367.0 454.0 530.0" stroke-width="2.30"/>
<path d="M315.3 258.6Q318.0 426.3 420.5 559.0" stroke-width="1.66"/>
<path d="M315.3 258.6Q288.4 442.2 326.7 623.7" stroke-width="2.17"/>
<path d="M365.5 280.3Q290.8 318.9 207.5 308.0" stroke-width="2.42"/>
<path d="M365.5 280.3Q307.4 307.6 243.5 314.4" stroke-width="2.42"/>
<path d="M365.5 280.3Q340.0 286.7 327.8 310.0" stroke-width="2.64"/>
<path d="M365.5 280.3Q380.8 300.0 381.8 325.0" stroke-width="1.67"/>
<path d="M365.5 280.3Q405.9 289.9 431.5 322.5" stroke-width="2.12"/>
<path d="M365.5 280.3Q428.2 271.2 478.4 310.0" stroke-width="2.20"/>
<path d="M365.5 280.3Q380.4 326.1 358.5 369.0" stroke-width="2.09"/>
<path d="M365.5 280.3Q422.9 337.1 494.5 374.5" stroke-width="1.72"/>
<path d="M365.5 280.3Q333.6 330.3 313.2 386.0" stroke-width="1.97"/>
<path d="M365.5 280.3Q389.0 337.7 424.1 388.7" stroke-width="2.50"/>
<path d="M365.5 280.3Q421.2 327.3 446.3 395.6" stroke-width="2.54"/>
<path d="M365.5 280.3Q313.5 348.7 241.2 395.3" stroke-width="2.16"/>
<path d="M365.5 280.3Q350.8 372.0 270.5 418.5" stroke-width="2.33"/>
<path d="M365.5 280.3Q392.7 368.2 342.0 445.0" stroke-width="2.25"/>
<path d="M365.5 280.3Q423.0 353.4 394.5 442.0" stroke-width="1.64"/>
<path d="M365.5 280.3Q298.2 367.1 305.0 476.7" stroke-width="2.14"/>
<path d="M365.5 280.3Q229.5 340.9 208.3 488.3" stroke-width="1.75"/>
<path d="M365.5 280.3Q423.9 378.7 451.7 489.7" stroke-width="2.11"/>
<path d="M365.5 280.3Q289.3 383.4 243.3 503.0" stroke-width="2.13"/>
<path d="M365.5 280.3Q410.5 402.2 331.7 505.5" stroke-width="1.67"/>
<path d="M365.5 280.3Q369.0 402.3 420.0 513.3" stroke-width="2.23"/>
<path d="M365.5 280.3Q499.3 361.9 519.3 517.3" stroke-width="2.39"/>
<path d="M365.5 280.3Q339.9 429.9 454.0 530.0" stroke-width="2.16"/>
<path d="M365.5 280.3Q432.0 411.7 356.7 538.3" stroke-width="2.01"/>
<path d="M365.5 280.3Q457.1 407.0 420.5 559.0" stroke-width="1.73"/>
<path d="M365.5 280.3Q265.3 420.4 289.0 591.0" stroke-width="1.99"/>
<path d="M365.5 280.3Q259.5 442.2 326.7 623.7" stroke-width="2.49"/>
<path d="M207.5 308.0Q227.1 301.9 243.5 314.4" stroke-width="2.34"/>
<path d="M207.5 308.0Q267.8 297.2 327.8 310.0" stroke-width="2.06"/>
<path d="M207.5 308.0Q297.0 292.6 381.8 325.0" stroke-width="2.31"/>
<path d="M207.5 308.0Q321.6 282.3 431.5 322.5" stroke-width="1.60"/>
<path d="M207.5 308.0Q278.0 350.9 358.5 369.0" stroke-width="2.25"/>
<path d="M207.5 308.0Q365.7 277.8 494.5 374.5" stroke-width="2.21"/>
<path d="M207.5 308.0Q277.3 324.0 313.2 386.0" stroke-width="1.70"/>
<path d="M207.5 308.0Q306.7 372.7 424.1 388.7" stroke-width="1.73"/>
<path d="M207.5 308.0Q337.3 323.6 446.3 395.6" stroke-width="2.24"/>
<path d="M207.5 308.0Q241.0 345.2 241.2 395.3" stroke-width="1.66"/>
<path d="M207.5 308.0Q224.4 371.6 270.5 418.5" stroke-width="2.52"/>
<path d="M207.5 308.0Q184.5 375.2 205.0 443.3" stroke-width="1.87"/>
<path d="M207.5 308.0Q308.2 343.7 342.0 445.0" stroke-width="2.32"/>
<path d="M207.5 308.0Q273.8 413.0 394.5 442.0" stroke-width="2.52"/>
<path d="M207.5 308.0Q273.0 382.7 305.0 476.7" stroke-width="2.24"/>
<path d="M207.5 308.0Q319.9 411.9 451.7 489.7" stroke-width="2.05"/>
<path d="M207.5 308.0Q237.2 403.3 243.3 503.0" stroke-width="2.23"/>
<path d="M207.5 308.0Q322.8 373.3 331.7 505.5" stroke-width="2.48"/>
<path d="M207.5 308.0Q259.8 466.5 420.0 513.3" stroke-width="1.90"/>
<path d="M207.5 308.0Q312.5 488.5 519.3 517.3" stroke-width="2.15"/>
<path d="M207.5 308.0Q368.0 377.6 454.0 530.0" stroke-width="2.06"/>
<path d="M207.5 308.0Q269.5 431.3 356.7 538.3" stroke-width="2.46"/>
<path d="M207.5 308.0Q274.2 467.3 420.5 559.0" stroke-width="1.84"/>
<path d="M207.5 308.0Q200.6 463.2 289.0 591.0" stroke-width="1.74"/>
<path d="M207.5 308.0Q237.3 477.1 326.7 623.7" stroke-width="2.39"/>
<path d="M243.5 314.4Q286.6 329.8 327.8 310.0" stroke-width="2.27"/>
<path d="M243.5 314.4Q312.1 327.4 381.8 325.0" stroke-width="2.29"/>
<path d="M243.5 314.4Q339.7 266.3 431.5 322.5" stroke-width="2.26"/>
<path d="M243.5 314.4Q360.7 299.6 478.4 310.0" stroke-width="2.41"/>
<path d="M243.5 314.4Q288.7 367.6 358.5 369.0" stroke-width="1.69"/>
<path d="M243.5 314.4Q357.8 391.2 494.5 374.5" stroke-width="1.66"/>
<path d="M243.5 314.4Q294.1 334.9 313.2 386.0" stroke-width="1.70"/>
<path d="M243.5 314.4Q346.4 320.8 424.1 388.7" stroke-width="1.86"/>
<path d="M243.5 314.4Q323.5 408.3 446.3 395.6" stroke-width="1.78"/>
<path d="M243.5 314.4Q263.9 355.5 241.2 395.3" stroke-width="1.62"/>
<path d="M243.5 314.4Q232.7 372.7 270.5 418.5" stroke-width="2.43"/>
<path d="M243.5 314.4Q213.6 375.7 205.0 443.3" stroke-width="2.12"/>
<path d="M243.5 314.4Q286.2 391.0 305.0 476.7" stroke-width="2.35"/>
<path d="M243.5 314.4Q259.4 408.1 208.3 488.3" stroke-width="2.15"/>
<path d="M243.5 314.4Q230.7 408.7 243.3 503.0" stroke-width="2.03"/>
<path d="M243.5 314.4Q303.9 402.4 331.7 505.5" stroke-width="1.96"/>
<path d="M243.5 314.4Q278.6 461.0 420.0 513.3" stroke-width="2.73"/>
<path d="M243.5 314.4Q424.0 357.9 519.3 517.3" stroke-width="2.04"/>
<path d="M243.5 314.4Q375.0 396.6 454.0 530.0" stroke-width="1.75"/>
<path d="M243.5 314.4Q327.0 412.8 356.7 538.3" stroke-width="2.17"/>
<path d="M243.5 314.4Q387.2 396.7 420.5 559.0" stroke-width="2.67"/>
<path d="M243.5 314.4Q328.4 457.4 326.7 623.7" stroke-width="1.84"/>
<path d="M327.8 310.0Q351.4 329.7 381.8 325.0" stroke-width="1.62"/>
<path d="M327.8 310.0Q378.1 329.0 431.5 322.5" stroke-width="1.80"/>
<path d="M327.8 310.0Q403.1 335.7 478.4 310.0" stroke-width="2.23"/>
<path d="M327.8 310.0Q425.5 342.9 516.7 295.0" stroke-width="1.71"/>
<path d="M327.8 310.0Q348.9 336.5 358.5 369.0" stroke-width="1.95"/>
<path d="M327.8 310.0Q399.9 371.2 494.5 374.5" stroke-width="2.39"/>
<path d="M327.8 310.0Q306.3 345.3 313.2 386.0" stroke-width="2.19"/>
<path d="M327.8 310.0Q381.0 343.2 424.1 388.7" stroke-width="2.35"/>
<path d="M327.8 310.0Q368.2 378.8 446.3 395.6" stroke-width="2.59"/>
<path d="M327.8 310.0Q306.3 374.8 241.2 395.3" stroke-width="2.22"/>
<path d="M327.8 310.0Q322.7 376.7 270.5 418.5" stroke-width="2.05"/>
<path d="M327.8 310.0Q276.8 386.2 205.0 443.3" stroke-width="1.71"/>
<path d="M327.8 310.0Q327.4 378.3 342.0 445.0" stroke-width="2.32"/>
<path d="M327.8 310.0Q384.4 364.2 394.5 442.0" stroke-width="2.51"/>
<path d="M327.8 310.0Q327.5 394.9 305.0 476.7" stroke-width="1.88"/>
<path d="M327.8 310.0Q342.6 432.4 451.7 489.7" stroke-width="1.89"/>
<path d="M327.8 310.0Q300.8 413.2 243.3 503.0" stroke-width="2.32"/>
<path d="M327.8 310.0Q275.3 408.8 331.7 505.5" stroke-width="2.13"/>
<path d="M327.8 310.0Q403.0 398.5 420.0 513.3" stroke-width="1.87"/>
<path d="M327.8 310.0Q325.5 426.3 356.7 538.3" stroke-width="1.70"/>
<path d="M327.8 310.0Q312.9 457.3 420.5 559.0" stroke-width="1.74"/>
<path d="M327.8 310.0Q260.5 466.6 326.7 623.7" stroke-width="1.67"/>
<path d="M381.8 325.0Q407.3 337.0 431.5 322.5" stroke-width="1.78"/>
<path d="M381.8 325.0Q428.7 308.4 478.4 310.0" stroke-width="2.52"/>
<path d="M381.8 325.0Q453.5 329.2 516.7 295.0" stroke-width="1.77"/>
<path d="M381.8 325.0Q374.0 349.0 358.5 369.0" stroke-width="1.90"/>
<path d="M381.8 325.0Q441.4 342.5 494.5 374.5" stroke-width="2.55"/>
<path d="M381.8 325.0Q353.0 361.6 313.2 386.0" stroke-width="2.65"/>
<path d="M381.8 325.0Q389.0 366.1 424.1 388.7" stroke-width="2.31"/>
<path d="M381.8 325.0Q428.9 346.7 446.3 395.6" stroke-width="2.46"/>
<path d="M381.8 325.0Q317.1 371.4 241.2 395.3" stroke-width="1.72"/>
<path d="M381.8 325.0Q307.9 350.1 270.5 418.5" stroke-width="2.56"/>
<path d="M381.8 325.0Q275.4 357.2 205.0 443.3" stroke-width="2.37"/>
<path d="M381.8 325.0Q382.9 392.0 342.0 445.0" stroke-width="1.80"/>
<path d="M381.8 325.0Q360.1 386.5 394.5 442.0" stroke-width="2.20"/>
<path d="M381.8 325.0Q360.7 409.6 305.0 476.7" stroke-width="2.41"/>
<path d="M381.8 325.0Q434.6 399.8 451.7 489.7" stroke-width="1.87"/>
<path d="M381.8 325.0Q294.2 399.7 243.3 503.0" stroke-width="2.49"/>
<path d="M381.8 325.0Q346.6 412.4 331.7 505.5" stroke-width="2.67"/>
<path d="M381.8 325.0Q361.5 427.2 420.0 513.3" stroke-width="2.09"/>
<path d="M381.8 325.0Q480.5 399.7 519.3 517.3" stroke-width="2.16"/>
<path d="M381.8 325.0Q383.7 439.6 454.0 530.0" stroke-width="1.97"/>
<path d="M381.8 325.0Q390.9 434.2 356.7 538.3" stroke-width="2.60"/>
<path d="M381.8 325.0Q429.8 437.3 420.5 559.0" stroke-width="2.72"/>
<path d="M381.8 325.0Q366.8 468.9 289.0 591.0" stroke-width="2.18"/>
<path d="M381.8 325.0Q336.2 471.0 326.7 623.7" stroke-width="2.17"/>
<path d="M431.5 322.5Q456.1 320.6 478.4 310.0" stroke-width="1.98"/>
<path d="M431.5 322.5Q481.8 332.6 516.7 295.0" stroke-width="2.12"/>
<path d="M431.5 322.5Q388.8 336.0 358.5 369.0" stroke-width="2.52"/>
<path d="M431.5 322.5Q476.7 331.9 494.5 374.5" stroke-width="2.39"/>
<path d="M431.5 322.5Q356.4 324.4 313.2 386.0" stroke-width="1.94"/>
<path d="M431.5 322.5Q423.7 355.1 424.1 388.7" stroke-width="2.28"/>
<path d="M431.5 322.5Q418.5 363.2 446.3 395.6" stroke-width="1.81"/>
<path d="M431.5 322.5Q319.4 314.7 241.2 395.3" stroke-width="2.04"/>
<path d="M431.5 322.5Q363.9 392.1 270.5 418.5" stroke-width="2.19"/>
<path d="M431.5 322.5Q394.1 389.1 342.0 445.0" stroke-width="1.89"/>
<path d="M431.5 322.5Q422.5 385.2 394.5 442.0" stroke-width="2.50"/>
<path d="M431.5 322.5Q388.2 416.0 305.0 476.7" stroke-width="1.93"/>
<path d="M431.5 322.5Q354.7 430.8 243.3 503.0" stroke-width="2.12"/>
<path d="M431.5 322.5Q351.8 397.7 331.7 505.5" stroke-width="1.71"/>
<path d="M431.5 322.5Q388.5 415.7 420.0 513.3" stroke-width="2.07"/>
<path d="M431.5 322.5Q516.9 401.2 519.3 517.3" stroke-width="1.67"/>
<path d="M431.5 322.5Q431.5 427.5 454.0 530.0" stroke-width="1.94"/>
<path d="M431.5 322.5Q364.3 420.1 356.7 538.3" stroke-width="1.63"/>
<path d="M431.5 322.5Q378.2 438.5 420.5 559.0" stroke-width="2.11"/>
<path d="M431.5 322.5Q325.9 454.6 326.7 623.7" stroke-width="1.75"/>
<path d="M478.4 310.0Q500.0 308.7 516.7 295.0" stroke-width="1.75"/>
<path d="M478.4 310.0Q412.8 328.1 358.5 369.0" stroke-width="1.83"/>
<path d="M478.4 310.0Q498.2 339.3 494.5 374.5" stroke-width="1.63"/>
<path d="M478.4 310.0Q415.4 390.6 313.2 386.0" stroke-width="1.84"/>
<path d="M478.4 310.0Q466.8 360.1 424.1 388.7" stroke-width="1.82"/>
<path d="M478.4 310.0Q451.0 348.5 446.3 395.6" stroke-width="1.63"/>
<path d="M478.4 310.0Q370.2 381.6 241.2 395.3" stroke-width="1.96"/>
<path d="M478.4 310.0Q381.0 376.7 270.5 418.5" stroke-width="2.38"/>
<path d="M478.4 310.0Q352.8 399.4 205.0 443.3" stroke-width="1.93"/>
<path d="M478.4 310.0Q380.5 347.5 342.0 445.0" stroke-width="2.53"/>
<path d="M478.4 310.0Q358.1 358.4 305.0 476.7" stroke-width="1.95"/>
<path d="M478.4 310.0Q314.8 350.4 243.3 503.0" stroke-width="2.30"/>
<path d="M478.4 310.0Q444.8 437.5 331.7 505.5" stroke-width="2.39"/>
<path d="M478.4 310.0Q487.2 422.6 420.0 513.3" stroke-width="1.99"/>
<path d="M478.4 310.0Q447.5 417.9 454.0 530.0" stroke-width="1.68"/>
<path d="M478.4 310.0Q467.0 450.5 356.7 538.3" stroke-width="2.02"/>
<path d="M478.4 310.0Q462.8 437.6 420.5 559.0" stroke-width="1.86"/>
<path d="M478.4 310.0Q485.1 506.8 326.7 623.7" stroke-width="2.31"/>
<path d="M516.7 295.0Q423.1 301.0 358.5 369.0" stroke-width="1.64"/>
<path d="M516.7 295.0Q525.8 340.4 494.5 374.5" stroke-width="1.70"/>
<path d="M516.7 295.0Q436.0 387.5 313.2 386.0" stroke-width="2.07"/>
<path d="M516.7 295.0Q464.4 333.3 446.3 395.6" stroke-width="2.01"/>
<path d="M516.7 295.0Q412.7 394.9 270.5 418.5" stroke-width="1.73"/>
<path d="M516.7 295.0Q444.8 359.5 394.5 442.0" stroke-width="2.13"/>
<path d="M516.7 295.0Q453.8 382.2 451.7 489.7" stroke-width="1.66"/>
<path d="M516.7 295.0Q404.8 431.7 243.3 503.0" stroke-width="1.97"/>
<path d="M516.7 295.0Q462.1 433.5 331.7 505.5" stroke-width="2.06"/>
<path d="M516.7 295.0Q417.2 381.5 420.0 513.3" stroke-width="2.13"/>
<path d="M516.7 295.0Q506.0 406.3 519.3 517.3" stroke-width="2.00"/>
<path d="M516.7 295.0Q445.0 401.7 454.0 530.0" stroke-width="1.67"/>
<path d="M516.7 295.0Q401.8 393.7 356.7 538.3" stroke-width="1.81"/>
<path d="M516.7 295.0Q442.9 417.6 420.5 559.0" stroke-width="2.23"/>
<path d="M516.7 295.0Q440.4 470.2 326.7 623.7" stroke-width="2.28"/>
<path d="M358.5 369.0Q427.6 345.3 494.5 374.5" stroke-width="2.36"/>
<path d="M358.5 369.0Q334.6 374.1 313.2 386.0" stroke-width="2.21"/>
<path d="M358.5 369.0Q396.4 361.8 424.1 388.7" stroke-width="2.24"/>
<path d="M358.5 369.0Q407.5 365.5 446.3 395.6" stroke-width="2.29"/>
<path d="M358.5 369.0Q296.0 365.1 241.2 395.3" stroke-width="1.70"/>
<path d="M358.5 369.0Q306.0 378.6 270.5 418.5" stroke-width="1.64"/>
<path d="M358.5 369.0Q292.3 427.9 205.0 443.3" stroke-width="1.79"/>
<path d="M358.5 369.0Q360.8 409.3 342.0 445.0" stroke-width="1.84"/>
<path d="M358.5 369.0Q385.1 401.2 394.5 442.0" stroke-width="2.32"/>
<path d="M358.5 369.0Q316.4 470.2 208.3 488.3" stroke-width="1.71"/>
<path d="M358.5 369.0Q387.8 442.7 451.7 489.7" stroke-width="1.82"/>
<path d="M358.5 369.0Q332.4 463.1 243.3 503.0" stroke-width="2.49"/>
<path d="M358.5 369.0Q371.0 442.3 331.7 505.5" stroke-width="1.87"/>
<path d="M358.5 369.0Q371.2 448.8 420.0 513.3" stroke-width="2.46"/>
<path d="M358.5 369.0Q408.0 476.7 519.3 517.3" stroke-width="2.30"/>
<path d="M358.5 369.0Q400.1 454.1 356.7 538.3" stroke-width="2.28"/>
<path d="M358.5 369.0Q420.1 454.0 420.5 559.0" stroke-width="1.94"/>
<path d="M358.5 369.0Q370.7 494.7 289.0 591.0" stroke-width="1.69"/>
<path d="M358.5 369.0Q374.8 500.4 326.7 623.7" stroke-width="1.89"/>
<path d="M494.5 374.5Q402.8 364.2 313.2 386.0" stroke-width="1.88"/>
<path d="M494.5 374.5Q458.1 375.9 424.1 388.7" stroke-width="2.11"/>
<path d="M494.5 374.5Q475.6 397.0 446.3 395.6" stroke-width="2.43"/>
<path d="M494.5 374.5Q388.4 426.6 270.5 418.5" stroke-width="2.20"/>
<path d="M494.5 374.5Q412.0 396.3 342.0 445.0" stroke-width="1.64"/>
<path d="M494.5 374.5Q429.5 386.1 394.5 442.0" stroke-width="2.34"/>
<path d="M494.5 374.5Q499.1 441.8 451.7 489.7" stroke-width="1.61"/>
<path d="M494.5 374.5Q361.0 423.3 243.3 503.0" stroke-width="2.16"/>
<path d="M494.5 374.5Q381.2 400.4 331.7 505.5" stroke-width="2.01"/>
<path d="M494.5 374.5Q425.4 426.8 420.0 513.3" stroke-width="1.88"/>
<path d="M494.5 374.5Q457.3 483.1 356.7 538.3" stroke-width="1.68"/>
<path d="M494.5 374.5Q467.5 470.8 420.5 559.0" stroke-width="1.89"/>
<path d="M494.5 374.5Q430.2 512.3 326.7 623.7" stroke-width="1.65"/>
<path d="M313.2 386.0Q368.2 406.5 424.1 388.7" stroke-width="1.76"/>
<path d="M313.2 386.0Q381.1 372.5 446.3 395.6" stroke-width="2.10"/>
<path d="M313.2 386.0Q275.4 376.9 241.2 395.3" stroke-width="2.33"/>
<path d="M313.2 386.0Q288.0 397.3 270.5 418.5" stroke-width="1.65"/>
<path d="M313.2 386.0Q319.4 419.5 342.0 445.0" stroke-width="2.30"/>
<path d="M313.2 386.0Q341.1 432.5 394.5 442.0" stroke-width="1.99"/>
<path d="M313.2 386.0Q293.9 430.0 305.0 476.7" stroke-width="2.10"/>
<path d="M313.2 386.0Q269.7 446.3 208.3 488.3" stroke-width="1.68"/>
<path d="M313.2 386.0Q371.6 452.4 451.7 489.7" stroke-width="2.05"/>
<path d="M313.2 386.0Q291.1 452.2 243.3 503.0" stroke-width="1.91"/>
<path d="M313.2 386.0Q336.0 443.6 331.7 505.5" stroke-width="2.08"/>
<path d="M313.2 386.0Q338.4 473.3 420.0 513.3" stroke-width="1.84"/>
<path d="M313.2 386.0Q371.3 470.0 454.0 530.0" stroke-width="2.36"/>
<path d="M313.2 386.0Q306.0 470.4 356.7 538.3" stroke-width="2.38"/>
<path d="M313.2 386.0Q336.6 491.3 420.5 559.0" stroke-width="1.98"/>
<path d="M313.2 386.0Q260.2 508.2 326.7 623.7" stroke-width="1.85"/>
<path d="M424.1 388.7Q434.7 393.7 446.3 395.6" stroke-width="2.01"/>
<path d="M424.1 388.7Q331.9 371.8 241.2 395.3" stroke-width="1.70"/>
<path d="M424.1 388.7Q354.8 442.3 270.5 418.5" stroke-width="2.51"/>
<path d="M424.1 388.7Q300.3 358.7 205.0 443.3" stroke-width="1.69"/>
<path d="M424.1 388.7Q371.2 399.5 342.0 445.0" stroke-width="1.67"/>
<path d="M424.1 388.7Q415.7 418.9 394.5 442.0" stroke-width="2.02"/>
<path d="M424.1 388.7Q383.6 458.4 305.0 476.7" stroke-width="2.19"/>
<path d="M424.1 388.7Q336.4 482.2 208.3 488.3" stroke-width="1.73"/>
<path d="M424.1 388.7Q394.9 460.6 331.7 505.5" stroke-width="2.02"/>
<path d="M424.1 388.7Q447.8 451.8 420.0 513.3" stroke-width="1.68"/>
<path d="M424.1 388.7Q452.7 467.1 519.3 517.3" stroke-width="2.20"/>
<path d="M424.1 388.7Q423.8 462.6 454.0 530.0" stroke-width="1.93"/>
<path d="M424.1 388.7Q382.8 460.1 356.7 538.3" stroke-width="2.25"/>
<path d="M424.1 388.7Q380.4 473.0 420.5 559.0" stroke-width="2.42"/>
<path d="M424.1 388.7Q375.7 502.7 289.0 591.0" stroke-width="1.87"/>
<path d="M446.3 395.6Q343.8 358.1 241.2 395.3" stroke-width="2.05"/>
<path d="M446.3 395.6Q360.7 424.8 270.5 418.5" stroke-width="1.73"/>
<path d="M446.3 395.6Q318.7 384.3 205.0 443.3" stroke-width="2.50"/>
<path d="M446.3 395.6Q383.7 398.3 342.0 445.0" stroke-width="1.67"/>
<path d="M446.3 395.6Q426.0 425.1 394.5 442.0" stroke-width="2.45"/>
<path d="M446.3 395.6Q383.8 450.4 305.0 476.7" stroke-width="1.70"/>
<path d="M446.3 395.6Q313.6 406.9 208.3 488.3" stroke-width="2.17"/>
<path d="M446.3 395.6Q460.2 442.0 451.7 489.7" stroke-width="2.24"/>
<path d="M446.3 395.6Q351.9 462.8 243.3 503.0" stroke-width="1.98"/>
<path d="M446.3 395.6Q459.6 460.4 420.0 513.3" stroke-width="1.74"/>
<path d="M446.3 395.6Q433.3 463.8 454.0 530.0" stroke-width="1.96"/>
<path d="M446.3 395.6Q433.4 487.0 356.7 538.3" stroke-width="1.85"/>
<path d="M446.3 395.6Q461.0 481.7 420.5 559.0" stroke-width="2.51"/>
<path d="M446.3 395.6Q335.0 482.6 326.7 623.7" stroke-width="2.35"/>
<path d="M241.2 395.3Q253.7 409.6 270.5 418.5" stroke-width="1.66"/>
<path d="M241.2 395.3Q211.1 410.2 205.0 443.3" stroke-width="2.15"/>
<path d="M241.2 395.3Q283.9 435.8 342.0 445.0" stroke-width="1.96"/>
<path d="M241.2 395.3Q227.0 449.4 243.3 503.0" stroke-width="2.43"/>
<path d="M241.2 395.3Q300.4 439.0 331.7 505.5" stroke-width="1.67"/>
<path d="M241.2 395.3Q338.1 442.9 420.0 513.3" stroke-width="2.48"/>
<path d="M241.2 395.3Q344.1 462.7 420.5 559.0" stroke-width="2.30"/>
<path d="M241.2 395.3Q307.2 500.8 326.7 623.7" stroke-width="1.66"/>
<path d="M270.5 418.5Q231.0 413.1 205.0 443.3" stroke-width="2.33"/>
<path d="M270.5 418.5Q311.4 418.0 342.0 445.0" stroke-width="2.35"/>
<path d="M270.5 418.5Q339.1 395.6 394.5 442.0" stroke-width="1.64"/>
<path d="M270.5 418.5Q284.4 449.6 305.0 476.7" stroke-width="1.95"/>
<path d="M270.5 418.5Q247.4 460.5 208.3 488.3" stroke-width="2.09"/>
<path d="M270.5 418.5Q277.5 467.4 243.3 503.0" stroke-width="2.19"/>
<path d="M270.5 418.5Q295.0 466.3 331.7 505.5" stroke-width="2.62"/>
<path d="M270.5 418.5Q350.2 458.0 420.0 513.3" stroke-width="1.93"/>
<path d="M270.5 418.5Q408.5 433.6 519.3 517.3" stroke-width="2.05"/>
<path d="M270.5 418.5Q331.7 524.5 454.0 530.0" stroke-width="2.09"/>
<path d="M270.5 418.5Q322.5 472.0 356.7 538.3" stroke-width="1.94"/>
<path d="M270.5 418.5Q358.1 475.3 420.5 559.0" stroke-width="1.61"/>
<path d="M270.5 418.5Q259.2 507.0 289.0 591.0" stroke-width="1.90"/>
<path d="M270.5 418.5Q265.4 530.2 326.7 623.7" stroke-width="2.37"/>
<path d="M205.0 443.3Q273.8 423.1 342.0 445.0" stroke-width="1.67"/>
<path d="M205.0 443.3Q299.9 462.1 394.5 442.0" stroke-width="2.30"/>
<path d="M205.0 443.3Q253.0 466.0 305.0 476.7" stroke-width="1.63"/>
<path d="M205.0 443.3Q214.7 465.2 208.3 488.3" stroke-width="1.79"/>
<path d="M205.0 443.3Q332.8 442.7 451.7 489.7" stroke-width="1.92"/>
<path d="M205.0 443.3Q218.2 476.9 243.3 503.0" stroke-width="1.66"/>
<path d="M205.0 443.3Q255.7 500.2 331.7 505.5" stroke-width="2.46"/>
<path d="M205.0 443.3Q297.6 464.0 356.7 538.3" stroke-width="1.77"/>
<path d="M205.0 443.3Q330.1 468.9 420.5 559.0" stroke-width="1.78"/>
<path d="M205.0 443.3Q271.9 503.0 289.0 591.0" stroke-width="2.10"/>
<path d="M342.0 445.0Q369.0 455.9 394.5 442.0" stroke-width="1.99"/>
<path d="M342.0 445.0Q327.3 465.3 305.0 476.7" stroke-width="1.95"/>
<path d="M342.0 445.0Q283.2 491.4 208.3 488.3" stroke-width="1.66"/>
<path d="M342.0 445.0Q404.0 449.8 451.7 489.7" stroke-width="1.87"/>
<path d="M342.0 445.0Q304.1 493.5 243.3 503.0" stroke-width="1.95"/>
<path d="M342.0 445.0Q349.3 477.4 331.7 505.5" stroke-width="2.32"/>
<path d="M342.0 445.0Q393.4 465.0 420.0 513.3" stroke-width="2.21"/>
<path d="M342.0 445.0Q371.2 488.2 356.7 538.3" stroke-width="1.94"/>
<path d="M342.0 445.0Q395.0 492.5 420.5 559.0" stroke-width="2.49"/>
<path d="M342.0 445.0Q294.7 510.5 289.0 591.0" stroke-width="1.62"/>
<path d="M342.0 445.0Q302.4 531.6 326.7 623.7" stroke-width="2.05"/>
<path d="M394.5 442.0Q358.7 482.4 305.0 476.7" stroke-width="2.11"/>
<path d="M394.5 442.0Q294.7 438.2 208.3 488.3" stroke-width="2.41"/>
<path d="M394.5 442.0Q334.2 510.5 243.3 503.0" stroke-width="1.94"/>
<path d="M394.5 442.0Q376.1 486.6 331.7 505.5" stroke-width="2.36"/>
<path d="M394.5 442.0Q402.0 479.5 420.0 513.3" stroke-width="1.97"/>
<path d="M394.5 442.0Q439.8 475.5 454.0 530.0" stroke-width="2.08"/>
<path d="M394.5 442.0Q368.4 487.3 356.7 538.3" stroke-width="2.20"/>
<path d="M394.5 442.0Q388.8 504.7 420.5 559.0" stroke-width="2.15"/>
<path d="M394.5 442.0Q366.1 533.8 289.0 591.0" stroke-width="1.80"/>
<path d="M394.5 442.0Q312.9 515.1 326.7 623.7" stroke-width="2.54"/>
<path d="M305.0 476.7Q255.1 469.5 208.3 488.3" stroke-width="1.61"/>
<path d="M305.0 476.7Q277.7 498.1 243.3 503.0" stroke-width="1.86"/>
<path d="M305.0 476.7Q316.6 492.7 331.7 505.5" stroke-width="2.20"/>
<path d="M305.0 476.7Q370.3 470.3 420.0 513.3" stroke-width="2.24"/>
<path d="M305.0 476.7Q415.0 481.8 519.3 517.3" stroke-width="2.26"/>
<path d="M305.0 476.7Q367.5 511.2 420.5 559.0" stroke-width="1.85"/>
<path d="M305.0 476.7Q267.8 529.8 289.0 591.0" stroke-width="2.16"/>
<path d="M305.0 476.7Q343.5 546.1 326.7 623.7" stroke-width="1.77"/>
<path d="M208.3 488.3Q222.0 504.6 243.3 503.0" stroke-width="1.94"/>
<path d="M208.3 488.3Q268.5 507.6 331.7 505.5" stroke-width="2.24"/>
<path d="M208.3 488.3Q312.2 517.6 420.0 513.3" stroke-width="1.73"/>
<path d="M208.3 488.3Q359.2 552.0 519.3 517.3" stroke-width="2.18"/>
<path d="M208.3 488.3Q304.9 552.0 420.5 559.0" stroke-width="1.78"/>
<path d="M451.7 489.7Q348.8 517.2 243.3 503.0" stroke-width="2.16"/>
<path d="M451.7 489.7Q394.6 519.3 331.7 505.5" stroke-width="2.28"/>
<path d="M451.7 489.7Q463.4 509.2 454.0 530.0" stroke-width="1.85"/>
<path d="M451.7 489.7Q410.4 526.1 356.7 538.3" stroke-width="1.80"/>
<path d="M451.7 489.7Q449.8 530.5 420.5 559.0" stroke-width="1.86"/>
<path d="M451.7 489.7Q381.7 558.6 289.0 591.0" stroke-width="1.91"/>
<path d="M451.7 489.7Q413.0 578.9 326.7 623.7" stroke-width="2.20"/>
<path d="M243.3 503.0Q287.2 515.9 331.7 505.5" stroke-width="2.39"/>
<path d="M243.3 503.0Q332.6 491.2 420.0 513.3" stroke-width="1.60"/>
<path d="M243.3 503.0Q379.9 537.0 519.3 517.3" stroke-width="1.71"/>
<path d="M243.3 503.0Q350.7 500.8 454.0 530.0" stroke-width="2.36"/>
<path d="M243.3 503.0Q303.0 510.9 356.7 538.3" stroke-width="2.39"/>
<path d="M243.3 503.0Q344.1 492.3 420.5 559.0" stroke-width="2.12"/>
<path d="M243.3 503.0Q263.2 578.4 326.7 623.7" stroke-width="1.98"/>
<path d="M331.7 505.5Q374.9 519.8 420.0 513.3" stroke-width="2.18"/>
<path d="M331.7 505.5Q397.6 494.3 454.0 530.0" stroke-width="2.38"/>
<path d="M331.7 505.5Q348.9 518.3 356.7 538.3" stroke-width="1.92"/>
<path d="M331.7 505.5Q366.6 548.0 420.5 559.0" stroke-width="2.68"/>
<path d="M331.7 505.5Q296.1 541.1 289.0 591.0" stroke-width="2.04"/>
<path d="M331.7 505.5Q306.5 563.6 326.7 623.7" stroke-width="1.68"/>
<path d="M420.0 513.3Q469.3 525.0 519.3 517.3" stroke-width="1.77"/>
<path d="M420.0 513.3Q440.1 515.4 454.0 530.0" stroke-width="1.67"/>
<path d="M420.0 513.3Q382.1 509.9 356.7 538.3" stroke-width="2.32"/>
<path d="M420.0 513.3Q429.5 536.0 420.5 559.0" stroke-width="2.14"/>
<path d="M420.0 513.3Q369.9 578.1 289.0 591.0" stroke-width="1.86"/>
<path d="M420.0 513.3Q380.3 574.4 326.7 623.7" stroke-width="1.77"/>
<path d="M519.3 517.3Q466.8 530.9 420.5 559.0" stroke-width="2.14"/>
<path d="M519.3 517.3Q414.4 586.3 289.0 591.0" stroke-width="1.81"/>
<path d="M519.3 517.3Q448.9 617.3 326.7 623.7" stroke-width="2.29"/>
<path d="M454.0 530.0Q435.8 542.8 420.5 559.0" stroke-width="1.96"/>
<path d="M356.7 538.3Q383.6 563.9 420.5 559.0" stroke-width="1.61"/>
<path d="M356.7 538.3Q332.5 577.1 289.0 591.0" stroke-width="2.25"/>
<path d="M356.7 538.3Q361.9 588.1 326.7 623.7" stroke-width="1.85"/>
<path d="M420.5 559.0Q359.3 593.8 289.0 591.0" stroke-width="1.68"/>
<path d="M420.5 559.0Q356.7 566.9 326.7 623.7" stroke-width="1.65"/>
<path d="M289.0 591.0Q311.4 603.3 326.7 623.7" stroke-width="1.76"/>
</g>
<g fill="#03b4d7">
<circle cx="466.7" cy="11.7" r="5"/>
<circle cx="392.7" cy="59.3" r="10"/>
<circle cx="355.5" cy="77.7" r="9.5"/>
<circle cx="258.7" cy="97.5" r="8"/>
<circle cx="313.2" cy="117.6" r="12"/>
<circle cx="225.3" cy="145.4" r="10"/>
<circle cx="151.7" cy="171.7" r="8"/>
<circle cx="485.4" cy="142.2" r="6.8"/>
<circle cx="511.2" cy="140" r="7.5"/>
<circle cx="670.7" cy="138.3" r="6"/>
<circle cx="402.3" cy="168.3" r="16"/>
<circle cx="453.3" cy="176.7" r="14"/>
<circle cx="276" cy="201.7" r="17"/>
<circle cx="353.3" cy="200" r="18"/>
<circle cx="494" cy="229.3" r="16"/>
<circle cx="410.3" cy="243.3" r="22"/>
<circle cx="560.3" cy="265.8" r="16"/>
<circle cx="112" cy="250.5" r="8"/>
<circle cx="240.3" cy="267" r="20"/>
<circle cx="288.5" cy="268.3" r="22"/>
<circle cx="315.3" cy="258.6" r="21.5"/>
<circle cx="365.5" cy="280.3" r="24"/>
<circle cx="207.5" cy="308" r="20"/>
<circle cx="243.5" cy="314.4" r="20"/>
<circle cx="327.8" cy="310" r="20"/>
<circle cx="381.8" cy="325" r="24"/>
<circle cx="431.5" cy="322.5" r="20"/>
<circle cx="478.4" cy="310" r="17.5"/>
<circle cx="516.7" cy="295" r="13"/>
<circle cx="700" cy="326" r="5"/>
<circle cx="192" cy="359" r="9"/>
<circle cx="358.5" cy="369" r="20"/>
<circle cx="602.7" cy="360" r="8"/>
<circle cx="494.5" cy="374.5" r="17.5"/>
<circle cx="313.2" cy="386" r="18"/>
<circle cx="424.1" cy="388.7" r="16"/>
<circle cx="446.3" cy="395.6" r="18"/>
<circle cx="241.2" cy="395.3" r="16"/>
<circle cx="551.7" cy="406.7" r="8"/>
<circle cx="270.5" cy="418.5" r="21.5"/>
<circle cx="165" cy="416.7" r="8"/>
<circle cx="205" cy="443.3" r="16"/>
<circle cx="342" cy="445" r="16"/>
<circle cx="394.5" cy="442" r="18"/>
<circle cx="52.7" cy="464" r="5"/>
<circle cx="305" cy="476.7" r="14"/>
<circle cx="485" cy="470.5" r="10"/>
<circle cx="208.3" cy="488.3" r="14"/>
<circle cx="451.7" cy="489.7" r="12"/>
<circle cx="602.7" cy="491.7" r="6"/>
<circle cx="243.3" cy="503" r="17"/>
<circle cx="331.7" cy="505.5" r="19"/>
<circle cx="420" cy="513.3" r="20"/>
<circle cx="519.3" cy="517.3" r="14"/>
<circle cx="454" cy="530" r="13.5"/>
<circle cx="356.7" cy="538.3" r="18"/>
<circle cx="235" cy="556.7" r="10"/>
<circle cx="420.5" cy="559" r="24"/>
<circle cx="289" cy="591" r="12"/>
<circle cx="326.7" cy="623.7" r="22"/>
<circle cx="386.3" cy="633.5" r="10"/>
<circle cx="481.7" cy="634" r="8"/>
<circle cx="266" cy="649.5" r="8"/>
<circle cx="572.5" cy="669.2" r="6"/>
<circle cx="214" cy="673.7" r="8"/>
<circle cx="464" cy="734.8" r="7.5"/>
<circle cx="395" cy="789" r="6"/>
<circle cx="488.3" cy="819" r="6"/>
</g>
<g class="nl" text-anchor="middle">
<text transform="translate(466.7,17.6) scale(0.975,1)">TFEC</text>
<text transform="translate(392.7,65.2) scale(0.975,1)">LY96</text>
<text transform="translate(355.5,83.6) scale(0.975,1)">MERTK</text>
<text transform="translate(258.7,103.4) scale(0.975,1)">CMKLR1</text>
<text transform="translate(313.2,123.5) scale(0.975,1)">NLRP3</text>
<text transform="translate(225.3,151.3) scale(0.975,1)">PDCD1LG2</text>
<text transform="translate(151.7,177.6) scale(0.975,1)">ARRB2</text>
<text transform="translate(485.4,148.1) scale(0.975,1)">GPNMB</text>
<text transform="translate(511.2,145.9) scale(0.975,1)">ADGRE2</text>
<text transform="translate(670.7,144.2) scale(0.975,1)">PPT1</text>
<text transform="translate(402.3,174.2) scale(0.975,1)">MSR1</text>
<text transform="translate(453.3,182.6) scale(0.975,1)">MS4A4A</text>
<text transform="translate(276,207.6) scale(0.975,1)">CLEC7A</text>
<text transform="translate(353.3,205.9) scale(0.975,1)">FCGR2A</text>
<text transform="translate(494,235.2) scale(0.975,1)">MRC1</text>
<text transform="translate(410.3,249.2) scale(0.975,1)">CD4</text>
<text transform="translate(560.3,271.7) scale(0.975,1)">C1QC</text>
<text transform="translate(112,256.4) scale(0.975,1)">IL2RA</text>
<text transform="translate(240.3,272.9) scale(0.975,1)">ITGAX</text>
<text transform="translate(288.5,274.2) scale(0.975,1)">CD86</text>
<text transform="translate(315.3,264.5) scale(0.975,1)">ITGAM</text>
<text transform="translate(365.5,286.2) scale(0.975,1)">FCGR3A</text>
<text transform="translate(207.5,313.9) scale(0.975,1)">TLR4</text>
<text transform="translate(243.5,320.3) scale(0.975,1)">TLR2</text>
<text transform="translate(327.8,315.9) scale(0.975,1)">C3AR1</text>
<text transform="translate(381.8,330.9) scale(0.975,1)">CSF1R</text>
<text transform="translate(431.5,328.4) scale(0.975,1)">CCR1</text>
<text transform="translate(478.4,315.9) scale(0.975,1)">AIF1</text>
<text transform="translate(516.7,300.9) scale(0.975,1)">FOLR2</text>
<text transform="translate(700,331.9) scale(0.975,1)">LIPA</text>
<text transform="translate(192,364.9) scale(0.975,1)">LILRB4</text>
<text transform="translate(358.5,374.9) scale(0.975,1)">C1QA</text>
<text transform="translate(602.7,365.9) scale(0.975,1)">GPR34</text>
<text transform="translate(494.5,380.4) scale(0.975,1)">VSIG4</text>
<text transform="translate(313.2,391.9) scale(0.975,1)">CYBB</text>
<text transform="translate(424.1,394.6) scale(0.975,1)">LY86</text>
<text transform="translate(446.3,401.5) scale(0.975,1)">C5AR1</text>
<text transform="translate(241.2,401.2) scale(0.975,1)">NCF2</text>
<text transform="translate(551.7,412.6) scale(0.975,1)">RNASE2</text>
<text transform="translate(270.5,424.4) scale(0.975,1)">CD163</text>
<text transform="translate(165,422.6) scale(0.975,1)">GPR183</text>
<text transform="translate(205,449.2) scale(0.975,1)">FPR1</text>
<text transform="translate(342,450.9) scale(0.975,1)">HAVCR2</text>
<text transform="translate(394.5,447.9) scale(0.975,1)">C1QB</text>
<text transform="translate(52.7,469.9) scale(0.975,1)">STX11</text>
<text transform="translate(305,482.6) scale(0.975,1)">IGSF6</text>
<text transform="translate(485,476.4) scale(0.975,1)">SLAMF8</text>
<text transform="translate(208.3,494.2) scale(0.975,1)">LAIR1</text>
<text transform="translate(451.7,495.6) scale(0.975,1)">FPR3</text>
<text transform="translate(602.7,497.6) scale(0.975,1)">SLCO2B1</text>
<text transform="translate(243.3,508.9) scale(0.975,1)">LCP2</text>
<text transform="translate(331.7,511.4) scale(0.975,1)">MNDA</text>
<text transform="translate(420,519.2) scale(0.975,1)">ITGB2</text>
<text transform="translate(519.3,523.2) scale(0.975,1)">MS4A6A</text>
<text transform="translate(454,535.9) scale(0.975,1)">CD14</text>
<text transform="translate(356.7,544.2) scale(0.975,1)">HCK</text>
<text transform="translate(235,562.6) scale(0.975,1)">ALOX5AP</text>
<text transform="translate(420.5,564.9) scale(0.975,1)">TYROBP</text>
<text transform="translate(289,596.9) scale(0.975,1)">MYO1F</text>
<text transform="translate(326.7,629.6) scale(0.975,1)">FCER1G</text>
<text transform="translate(386.3,639.4) scale(0.975,1)">LST1</text>
<text transform="translate(481.7,639.9) scale(0.975,1)">PLA2G7</text>
<text transform="translate(266,655.4) scale(0.975,1)">CD84</text>
<text transform="translate(572.5,675.1) scale(0.975,1)">SLC15A3</text>
<text transform="translate(214,679.6) scale(0.975,1)">THEMIS2</text>
<text transform="translate(464,740.7) scale(0.975,1)">SRGN</text>
<text transform="translate(395,794.9) scale(0.975,1)">ADAP2</text>
<text transform="translate(488.3,824.9) scale(0.975,1)">C1orf162</text>
</g>
<g stroke="rgba(0,0,0,0.115)" stroke-width="2.1">
<line x1="926.0" y1="229.3" x2="926.0" y2="661"/>
<line x1="972.9" y1="229.3" x2="972.9" y2="661"/>
<line x1="1019.8" y1="229.3" x2="1019.8" y2="661"/>
<line x1="1066.6" y1="229.3" x2="1066.6" y2="661"/>
<line x1="1113.5" y1="229.3" x2="1113.5" y2="661"/>
<line x1="1160.3" y1="229.3" x2="1160.3" y2="661"/>
<line x1="1207.2" y1="229.3" x2="1207.2" y2="661"/>
<line x1="1254.1" y1="229.3" x2="1254.1" y2="661"/>
<line x1="1300.9" y1="229.3" x2="1300.9" y2="661"/>
<line x1="1347.8" y1="229.3" x2="1347.8" y2="661"/>
<line x1="1394.6" y1="229.3" x2="1394.6" y2="661"/>
<line x1="1441.5" y1="229.3" x2="1441.5" y2="661"/>
<line x1="1488.4" y1="229.3" x2="1488.4" y2="661"/>
<line x1="1535.2" y1="229.3" x2="1535.2" y2="661"/>
<line x1="1582.1" y1="229.3" x2="1582.1" y2="661"/>
<line x1="910" y1="252.8" x2="1587.7" y2="252.8"/>
<line x1="910" y1="293.9" x2="1587.7" y2="293.9"/>
<line x1="910" y1="335.0" x2="1587.7" y2="335.0"/>
<line x1="910" y1="376.1" x2="1587.7" y2="376.1"/>
<line x1="910" y1="417.2" x2="1587.7" y2="417.2"/>
<line x1="910" y1="458.3" x2="1587.7" y2="458.3"/>
<line x1="910" y1="499.4" x2="1587.7" y2="499.4"/>
<line x1="910" y1="540.5" x2="1587.7" y2="540.5"/>
<line x1="910" y1="581.6" x2="1587.7" y2="581.6"/>
<line x1="910" y1="622.7" x2="1587.7" y2="622.7"/>
</g>
<g fill="#de6a50">
<circle cx="1006" cy="356" r="4.2"/>
<circle cx="1002" cy="365" r="4.2"/>
<circle cx="1009" cy="408.2" r="4.2"/>
<circle cx="937.8" cy="251.7" r="4.2"/>
<circle cx="949.8" cy="255.6" r="4.2"/>
<circle cx="957.5" cy="250.6" r="4.2"/>
<circle cx="992.2" cy="249.6" r="4.2"/>
<circle cx="993.6" cy="252" r="4.2"/>
<circle cx="941.1" cy="264.7" r="4.2"/>
<circle cx="945.3" cy="266.5" r="4.2"/>
<circle cx="939" cy="271.3" r="4.2"/>
<circle cx="939.9" cy="280.9" r="4.2"/>
<circle cx="949.1" cy="277.5" r="4.2"/>
<circle cx="957.9" cy="272.3" r="4.2"/>
<circle cx="963.6" cy="276.1" r="4.2"/>
<circle cx="968.1" cy="263.5" r="4.2"/>
<circle cx="972.3" cy="267.4" r="4.2"/>
<circle cx="999.4" cy="273.7" r="4.2"/>
<circle cx="1001.2" cy="281.5" r="4.2"/>
<circle cx="991" cy="283.9" r="4.2"/>
<circle cx="997.6" cy="288.1" r="4.2"/>
<circle cx="978" cy="286.3" r="4.2"/>
<circle cx="950.7" cy="294.8" r="4.2"/>
<circle cx="948.9" cy="298.4" r="4.2"/>
<circle cx="947.1" cy="305.6" r="4.2"/>
<circle cx="941.4" cy="315.8" r="4.2"/>
<circle cx="965.1" cy="294.8" r="4.2"/>
<circle cx="958.3" cy="305" r="4.2"/>
<circle cx="963.1" cy="311" r="4.2"/>
<circle cx="968.7" cy="303.8" r="4.2"/>
<circle cx="973" cy="300.8" r="4.2"/>
<circle cx="978.4" cy="300.2" r="4.2"/>
<circle cx="975.6" cy="312" r="4.2"/>
<circle cx="986.2" cy="309.2" r="4.2"/>
<circle cx="992.2" cy="293" r="4.2"/>
<circle cx="991.6" cy="299.6" r="4.2"/>
<circle cx="999.4" cy="302.6" r="4.2"/>
<circle cx="1003.6" cy="311.2" r="4.2"/>
<circle cx="960.7" cy="324.8" r="4.2"/>
<circle cx="965.5" cy="323" r="4.2"/>
<circle cx="972" cy="320" r="4.2"/>
<circle cx="981.1" cy="324.8" r="4.2"/>
<circle cx="990.2" cy="326" r="4.2"/>
<circle cx="998.8" cy="328.4" r="4.2"/>
<circle cx="987.1" cy="349" r="4.2"/>
<circle cx="1005.2" cy="351.1" r="4.2"/>
<circle cx="997.6" cy="354.7" r="4.2"/>
<circle cx="992.2" cy="358.9" r="4.2"/>
<circle cx="1008.4" cy="358.9" r="4.2"/>
<circle cx="1004.2" cy="362.5" r="4.2"/>
<circle cx="1003" cy="368.5" r="4.2"/>
<circle cx="998.2" cy="372.1" r="4.2"/>
<circle cx="1008.4" cy="375.7" r="4.2"/>
<circle cx="1003" cy="381.1" r="4.2"/>
<circle cx="995.8" cy="382.9" r="4.2"/>
<circle cx="989.2" cy="374.8" r="4.2"/>
<circle cx="982" cy="361.5" r="4.2"/>
<circle cx="979" cy="369.7" r="4.2"/>
<circle cx="975.6" cy="375.1" r="4.2"/>
<circle cx="968.7" cy="374.8" r="4.2"/>
<circle cx="972.3" cy="363.1" r="4.2"/>
<circle cx="964.5" cy="365.9" r="4.2"/>
<circle cx="960.3" cy="366.7" r="4.2"/>
<circle cx="948.3" cy="360.1" r="4.2"/>
<circle cx="943.5" cy="367.9" r="4.2"/>
<circle cx="943.5" cy="374.5" r="4.2"/>
<circle cx="950.7" cy="374.3" r="4.2"/>
<circle cx="944.7" cy="390.2" r="4.2"/>
<circle cx="953.9" cy="395" r="4.2"/>
<circle cx="956.7" cy="399.6" r="4.2"/>
<circle cx="969.3" cy="395.6" r="4.2"/>
<circle cx="967.5" cy="398" r="4.2"/>
<circle cx="945.9" cy="399.8" r="4.2"/>
<circle cx="948.3" cy="403.4" r="4.2"/>
<circle cx="959.1" cy="407.6" r="4.2"/>
<circle cx="953.1" cy="411.8" r="4.2"/>
<circle cx="945.9" cy="412.4" r="4.2"/>
<circle cx="976.6" cy="407.3" r="4.2"/>
<circle cx="985" cy="399.8" r="4.2"/>
<circle cx="992.8" cy="392.8" r="4.2"/>
<circle cx="984.4" cy="408.8" r="4.2"/>
<circle cx="1010.9" cy="405.6" r="4.2"/>
<circle cx="995.2" cy="411.2" r="4.2"/>
<circle cx="1004.2" cy="419" r="4.2"/>
<circle cx="999.4" cy="416.6" r="4.2"/>
<circle cx="936.8" cy="417.8" r="4.2"/>
<circle cx="939.9" cy="422.7" r="4.2"/>
<circle cx="948.9" cy="425.1" r="4.2"/>
<circle cx="971.7" cy="419.7" r="4.2"/>
<circle cx="983.2" cy="417.6" r="4.2"/>
<circle cx="986.2" cy="425.7" r="4.2"/>
<circle cx="962.7" cy="426.9" r="4.2"/>
<circle cx="971.1" cy="430.2" r="4.2"/>
<circle cx="959.7" cy="431.4" r="4.2"/>
<circle cx="954.3" cy="435" r="4.2"/>
<circle cx="958.5" cy="441.1" r="4.2"/>
<circle cx="966.3" cy="442.3" r="4.2"/>
<circle cx="973" cy="440.5" r="4.2"/>
<circle cx="947.7" cy="440.5" r="4.2"/>
<circle cx="1003.6" cy="432.6" r="4.2"/>
<circle cx="992.8" cy="441.7" r="4.2"/>
<circle cx="992.2" cy="447.7" r="4.2"/>
<circle cx="1003" cy="443.5" r="4.2"/>
<circle cx="942.9" cy="453.7" r="4.2"/>
<circle cx="944.1" cy="463.9" r="4.2"/>
<circle cx="944.1" cy="474.2" r="4.2"/>
<circle cx="972.3" cy="461.5" r="4.2"/>
<circle cx="981.6" cy="460.7" r="4.2"/>
<circle cx="1001.2" cy="456.7" r="4.2"/>
<circle cx="1001.2" cy="465.7" r="4.2"/>
<circle cx="994" cy="471.5" r="4.2"/>
<circle cx="967.5" cy="470.5" r="4.2"/>
<circle cx="966.3" cy="476" r="4.2"/>
<circle cx="982" cy="477.2" r="4.2"/>
<circle cx="983.2" cy="485" r="4.2"/>
<circle cx="980.2" cy="488.6" r="4.2"/>
<circle cx="999.4" cy="479" r="4.2"/>
<circle cx="997" cy="490.4" r="4.2"/>
<circle cx="961.5" cy="491" r="4.2"/>
<circle cx="962.1" cy="502.8" r="4.2"/>
<circle cx="965.7" cy="503" r="4.2"/>
<circle cx="961.5" cy="512.9" r="4.2"/>
<circle cx="946.5" cy="513.6" r="4.2"/>
<circle cx="951.9" cy="517.5" r="4.2"/>
<circle cx="988.6" cy="510.3" r="4.2"/>
<circle cx="994" cy="513.9" r="4.2"/>
<circle cx="988" cy="518.1" r="4.2"/>
<circle cx="987.9" cy="520.1" r="4.2"/>
<circle cx="943.7" cy="524.8" r="4.2"/>
<circle cx="964.8" cy="527.7" r="4.2"/>
<circle cx="944.6" cy="531.9" r="4.2"/>
<circle cx="950.5" cy="534.4" r="4.2"/>
<circle cx="957.2" cy="536.1" r="4.2"/>
<circle cx="967.3" cy="536.1" r="4.2"/>
<circle cx="974.9" cy="540.7" r="4.2"/>
<circle cx="944.6" cy="541.2" r="4.2"/>
<circle cx="948.8" cy="542.4" r="4.2"/>
<circle cx="958" cy="545.4" r="4.2"/>
<circle cx="970.7" cy="544.6" r="4.2"/>
<circle cx="967.3" cy="551.3" r="4.2"/>
<circle cx="959.7" cy="561.4" r="4.2"/>
<circle cx="963.1" cy="560.6" r="4.2"/>
<circle cx="963.9" cy="569.8" r="4.2"/>
<circle cx="931.1" cy="622.9" r="4.2"/>
<circle cx="933.6" cy="627.1" r="4.2"/>
<circle cx="932.8" cy="632.2" r="4.2"/>
<circle cx="935.3" cy="638.1" r="4.2"/>
<circle cx="929.9" cy="640.6" r="4.2"/>
</g>
<g fill="#0cb6e2">
<circle cx="1489.5" cy="361.5" r="4.2"/>
<circle cx="1497" cy="361" r="4.2"/>
<circle cx="1492" cy="367.5" r="4.2"/>
<circle cx="1487" cy="368.5" r="4.2"/>
<circle cx="1513.5" cy="357" r="4.2"/>
<circle cx="1516" cy="368" r="4.2"/>
<circle cx="1499.5" cy="324.4" r="4.2"/>
<circle cx="1479.7" cy="330" r="4.2"/>
<circle cx="1482.1" cy="337.3" r="4.2"/>
<circle cx="1474.3" cy="339.1" r="4.2"/>
<circle cx="1477.3" cy="341.5" r="4.2"/>
<circle cx="1517" cy="345.7" r="4.2"/>
<circle cx="1514.6" cy="352.9" r="4.2"/>
<circle cx="1496.5" cy="349.3" r="4.2"/>
<circle cx="1492.9" cy="353.5" r="4.2"/>
<circle cx="1499.5" cy="356.5" r="4.2"/>
<circle cx="1473.1" cy="354.7" r="4.2"/>
<circle cx="1467" cy="360.5" r="4.2"/>
<circle cx="1476.1" cy="362.5" r="4.2"/>
<circle cx="1486.9" cy="359.5" r="4.2"/>
<circle cx="1485.1" cy="364.9" r="4.2"/>
<circle cx="1491.1" cy="364.3" r="4.2"/>
<circle cx="1494.7" cy="366.1" r="4.2"/>
<circle cx="1477.3" cy="369.2" r="4.2"/>
<circle cx="1473.1" cy="365.5" r="4.2"/>
<circle cx="1527.2" cy="359.5" r="4.2"/>
<circle cx="1514" cy="360.7" r="4.2"/>
<circle cx="1512.2" cy="364.3" r="4.2"/>
<circle cx="1517.6" cy="363.1" r="4.2"/>
<circle cx="1529" cy="370.1" r="4.2"/>
<circle cx="1536.2" cy="363.7" r="4.2"/>
<circle cx="1539.8" cy="369.2" r="4.2"/>
<circle cx="1542.8" cy="374.6" r="4.2"/>
<circle cx="1543.4" cy="378.2" r="4.2"/>
<circle cx="1548.6" cy="381.8" r="4.2"/>
<circle cx="1467.6" cy="372.8" r="4.2"/>
<circle cx="1468.2" cy="378.8" r="4.2"/>
<circle cx="1471.8" cy="383.6" r="4.2"/>
<circle cx="1466.4" cy="386" r="4.2"/>
<circle cx="1483.9" cy="376.4" r="4.2"/>
<circle cx="1486.9" cy="380.6" r="4.2"/>
<circle cx="1497.1" cy="377" r="4.2"/>
<circle cx="1495.3" cy="380.6" r="4.2"/>
<circle cx="1515.2" cy="374.6" r="4.2"/>
<circle cx="1520.6" cy="376.4" r="4.2"/>
<circle cx="1520.6" cy="383.6" r="4.2"/>
<circle cx="1527.8" cy="389" r="4.2"/>
<circle cx="1516.4" cy="391.4" r="4.2"/>
<circle cx="1488.1" cy="393.8" r="4.2"/>
<circle cx="1491.7" cy="399.2" r="4.2"/>
<circle cx="1503.7" cy="395" r="4.2"/>
<circle cx="1504.3" cy="399.8" r="4.2"/>
<circle cx="1471.8" cy="400.4" r="4.2"/>
<circle cx="1473.1" cy="408.3" r="4.2"/>
<circle cx="1480.9" cy="405.9" r="4.2"/>
<circle cx="1491.1" cy="405.9" r="4.2"/>
<circle cx="1542.8" cy="390.8" r="4.2"/>
<circle cx="1547.7" cy="397.4" r="4.2"/>
<circle cx="1542.8" cy="401.6" r="4.2"/>
<circle cx="1536.8" cy="404" r="4.2"/>
<circle cx="1526" cy="401" r="4.2"/>
<circle cx="1564.5" cy="396.8" r="4.2"/>
<circle cx="1562.1" cy="402.8" r="4.2"/>
<circle cx="1494.1" cy="411.3" r="4.2"/>
<circle cx="1509.2" cy="410.1" r="4.2"/>
<circle cx="1517.6" cy="411.9" r="4.2"/>
<circle cx="1547" cy="412.5" r="4.2"/>
<circle cx="1556.7" cy="410.7" r="4.2"/>
<circle cx="1564.5" cy="410.1" r="4.2"/>
<circle cx="1568.1" cy="412.5" r="4.2"/>
<circle cx="1474.9" cy="418.8" r="4.2"/>
<circle cx="1491.1" cy="417" r="4.2"/>
<circle cx="1504.3" cy="414" r="4.2"/>
<circle cx="1518.2" cy="413.2" r="4.2"/>
<circle cx="1480.9" cy="430.3" r="4.2"/>
<circle cx="1485.1" cy="431.5" r="4.2"/>
<circle cx="1498.3" cy="426.7" r="4.2"/>
<circle cx="1506.1" cy="429.7" r="4.2"/>
<circle cx="1494.7" cy="435.7" r="4.2"/>
<circle cx="1517" cy="425.5" r="4.2"/>
<circle cx="1521.8" cy="427.9" r="4.2"/>
<circle cx="1520" cy="433.9" r="4.2"/>
<circle cx="1514.6" cy="439.9" r="4.2"/>
<circle cx="1511.6" cy="443.5" r="4.2"/>
<circle cx="1524.2" cy="441.7" r="4.2"/>
<circle cx="1514" cy="448.3" r="4.2"/>
<circle cx="1544" cy="417.6" r="4.2"/>
<circle cx="1539.2" cy="420.6" r="4.2"/>
<circle cx="1542.2" cy="427.3" r="4.2"/>
<circle cx="1570.5" cy="418.2" r="4.2"/>
<circle cx="1570.5" cy="420.6" r="4.2"/>
<circle cx="1560.3" cy="420.6" r="4.2"/>
<circle cx="1553.7" cy="426.1" r="4.2"/>
<circle cx="1548.9" cy="432.7" r="4.2"/>
<circle cx="1549.5" cy="436.3" r="4.2"/>
<circle cx="1499.5" cy="456.5" r="4.2"/>
<circle cx="1512.8" cy="459.2" r="4.2"/>
<circle cx="1526" cy="454.9" r="4.2"/>
<circle cx="1536.2" cy="452.5" r="4.2"/>
<circle cx="1536.2" cy="456.1" r="4.2"/>
<circle cx="1532" cy="463.7" r="4.2"/>
<circle cx="1486.3" cy="467.6" r="4.2"/>
<circle cx="1498.1" cy="465.8" r="4.2"/>
<circle cx="1488.1" cy="479" r="4.2"/>
<circle cx="1489.9" cy="482.6" r="4.2"/>
<circle cx="1490.5" cy="486.8" r="4.2"/>
<circle cx="1495.3" cy="510.8" r="4.2"/>
<circle cx="1497.5" cy="513" r="4.2"/>
<circle cx="1500.3" cy="558.5" r="4.2"/>
<circle cx="1504.7" cy="560.7" r="4.2"/>
<circle cx="1500.3" cy="564.3" r="4.2"/>
<circle cx="1511.9" cy="567.2" r="4.2"/>
<circle cx="1499.6" cy="570.8" r="4.2"/>
<circle cx="1507.6" cy="573" r="4.2"/>
<circle cx="1511.2" cy="575.9" r="4.2"/>
<circle cx="1504.7" cy="578.8" r="4.2"/>
<circle cx="1504" cy="583.8" r="4.2"/>
<circle cx="1501.8" cy="587.4" r="4.2"/>
<circle cx="1506.1" cy="593.2" r="4.2"/>
<circle cx="1500.3" cy="599.7" r="4.2"/>
<circle cx="1504" cy="598.3" r="4.2"/>
<circle cx="1504.7" cy="609.8" r="4.2"/>
</g>
<g stroke="#1e1c1d" stroke-width="2.5" fill="none">
<path d="M897.5 229.3H1591.7V673.5" stroke-linejoin="miter"/>
<line x1="897.5" y1="661" x2="1591.7" y2="661"/>
<line x1="910" y1="229.3" x2="910" y2="673.5"/>
<line x1="926.0" y1="661" x2="926.0" y2="673.5"/>
<line x1="972.9" y1="661" x2="972.9" y2="673.5"/>
<line x1="1019.8" y1="661" x2="1019.8" y2="673.5"/>
<line x1="1066.6" y1="661" x2="1066.6" y2="673.5"/>
<line x1="1113.5" y1="661" x2="1113.5" y2="673.5"/>
<line x1="1160.3" y1="661" x2="1160.3" y2="673.5"/>
<line x1="1207.2" y1="661" x2="1207.2" y2="673.5"/>
<line x1="1254.1" y1="661" x2="1254.1" y2="673.5"/>
<line x1="1300.9" y1="661" x2="1300.9" y2="673.5"/>
<line x1="1347.8" y1="661" x2="1347.8" y2="673.5"/>
<line x1="1394.6" y1="661" x2="1394.6" y2="673.5"/>
<line x1="1441.5" y1="661" x2="1441.5" y2="673.5"/>
<line x1="1488.4" y1="661" x2="1488.4" y2="673.5"/>
<line x1="1535.2" y1="661" x2="1535.2" y2="673.5"/>
<line x1="1582.1" y1="661" x2="1582.1" y2="673.5"/>
<line x1="897.5" y1="252.8" x2="910" y2="252.8"/>
<line x1="897.5" y1="293.9" x2="910" y2="293.9"/>
<line x1="897.5" y1="335.0" x2="910" y2="335.0"/>
<line x1="897.5" y1="376.1" x2="910" y2="376.1"/>
<line x1="897.5" y1="417.2" x2="910" y2="417.2"/>
<line x1="897.5" y1="458.3" x2="910" y2="458.3"/>
<line x1="897.5" y1="499.4" x2="910" y2="499.4"/>
<line x1="897.5" y1="540.5" x2="910" y2="540.5"/>
<line x1="897.5" y1="581.6" x2="910" y2="581.6"/>
<line x1="897.5" y1="622.7" x2="910" y2="622.7"/>
</g>
<text transform="translate(926.04,699.20) scale(0.91,1)" class="s" text-anchor="middle" style="font-size:26.6px" ><tspan>−</tspan><tspan dx="3.5">12</tspan></text>
<text transform="translate(972.90,699.20) scale(0.91,1)" class="s" text-anchor="middle" style="font-size:26.6px" ><tspan>−</tspan><tspan dx="3.5">10</tspan></text>
<text transform="translate(1019.76,699.20) scale(0.91,1)" class="s" text-anchor="middle" style="font-size:26.6px" ><tspan>−</tspan><tspan dx="3.5">8</tspan></text>
<text transform="translate(1066.62,699.20) scale(0.91,1)" class="s" text-anchor="middle" style="font-size:26.6px" ><tspan>−</tspan><tspan dx="3.5">6</tspan></text>
<text transform="translate(1113.48,699.20) scale(0.91,1)" class="s" text-anchor="middle" style="font-size:26.6px" ><tspan>−</tspan><tspan dx="3.5">4</tspan></text>
<text transform="translate(1160.34,699.20) scale(0.91,1)" class="s" text-anchor="middle" style="font-size:26.6px" ><tspan>−</tspan><tspan dx="3.5">2</tspan></text>
<text transform="translate(1207.20,699.20) scale(0.91,1)" class="s" text-anchor="middle" style="font-size:26.6px" >0</text>
<text transform="translate(1254.06,699.20) scale(0.91,1)" class="s" text-anchor="middle" style="font-size:26.6px" >2</text>
<text transform="translate(1300.92,699.20) scale(0.91,1)" class="s" text-anchor="middle" style="font-size:26.6px" >4</text>
<text transform="translate(1347.78,699.20) scale(0.91,1)" class="s" text-anchor="middle" style="font-size:26.6px" >6</text>
<text transform="translate(1394.64,699.20) scale(0.91,1)" class="s" text-anchor="middle" style="font-size:26.6px" >8</text>
<text transform="translate(1441.50,699.20) scale(0.91,1)" class="s" text-anchor="middle" style="font-size:26.6px" >10</text>
<text transform="translate(1488.36,699.20) scale(0.91,1)" class="s" text-anchor="middle" style="font-size:26.6px" >12</text>
<text transform="translate(1535.22,699.20) scale(0.91,1)" class="s" text-anchor="middle" style="font-size:26.6px" >14</text>
<text transform="translate(1582.08,699.20) scale(0.91,1)" class="s" text-anchor="middle" style="font-size:26.6px" >16</text>
<text transform="translate(891.50,259.80) scale(0.91,1)" class="s" text-anchor="end" style="font-size:26.6px" >2.0</text>
<text transform="translate(891.50,300.90) scale(0.91,1)" class="s" text-anchor="end" style="font-size:26.6px" >1.5</text>
<text transform="translate(891.50,342.00) scale(0.91,1)" class="s" text-anchor="end" style="font-size:26.6px" >1.0</text>
<text transform="translate(891.50,383.10) scale(0.91,1)" class="s" text-anchor="end" style="font-size:26.6px" >0.5</text>
<text transform="translate(891.50,424.20) scale(0.91,1)" class="s" text-anchor="end" style="font-size:26.6px" >0.0</text>
<text transform="translate(891.50,465.30) scale(0.91,1)" class="s" text-anchor="end" style="font-size:26.6px" >0.5</text>
<text transform="translate(891.50,506.40) scale(0.91,1)" class="s" text-anchor="end" style="font-size:26.6px" ><tspan>−</tspan><tspan dx="3.5">1.0</tspan></text>
<text transform="translate(891.50,547.50) scale(0.91,1)" class="s" text-anchor="end" style="font-size:26.6px" ><tspan>−</tspan><tspan dx="3.5">1.5</tspan></text>
<text transform="translate(891.50,588.60) scale(0.91,1)" class="s" text-anchor="end" style="font-size:26.6px" ><tspan>−</tspan><tspan dx="3.5">2.0</tspan></text>
<text transform="translate(891.50,629.70) scale(0.91,1)" class="s" text-anchor="end" style="font-size:26.6px" ><tspan>−</tspan><tspan dx="3.5">2.5</tspan></text>
<text transform="translate(983.00,101.00) scale(0.966,1)" class="s" text-anchor="start" style="font-size:39.6px" >Before removing batch effect</text>
<circle cx="939" cy="150" r="12.3" fill="#de6a50"/>
<text transform="translate(960.00,156.50) scale(0.95,1)" class="s" text-anchor="start" style="font-size:26.6px" >TCGA-PAAD</text>
<circle cx="939" cy="191.8" r="12.3" fill="#0cb6e2"/>
<text transform="translate(960.00,201.50) scale(0.95,1)" class="s" text-anchor="start" style="font-size:26.6px" >GSE183795</text>
<text transform="translate(1162.00,749.00) scale(0.92,1)" class="s" text-anchor="start" style="font-size:31.5px" >UMAP1</text>
<text transform="translate(832.00,460.00) rotate(-90) scale(0.92,1)" class="s" text-anchor="middle" style="font-size:31.5px" >UMAP2</text>
<g stroke="rgba(0,0,0,0.115)" stroke-width="2.1">
<line x1="1740.0" y1="239.7" x2="1740.0" y2="671.8"/>
<line x1="1798.7" y1="239.7" x2="1798.7" y2="671.8"/>
<line x1="1857.4" y1="239.7" x2="1857.4" y2="671.8"/>
<line x1="1916.1" y1="239.7" x2="1916.1" y2="671.8"/>
<line x1="1974.8" y1="239.7" x2="1974.8" y2="671.8"/>
<line x1="2033.5" y1="239.7" x2="2033.5" y2="671.8"/>
<line x1="2092.2" y1="239.7" x2="2092.2" y2="671.8"/>
<line x1="2150.9" y1="239.7" x2="2150.9" y2="671.8"/>
<line x1="2209.6" y1="239.7" x2="2209.6" y2="671.8"/>
<line x1="2268.3" y1="239.7" x2="2268.3" y2="671.8"/>
<line x1="2327.0" y1="239.7" x2="2327.0" y2="671.8"/>
<line x1="2385.7" y1="239.7" x2="2385.7" y2="671.8"/>
<line x1="1703" y1="296.2" x2="2397.2" y2="296.2"/>
<line x1="1703" y1="355.3" x2="2397.2" y2="355.3"/>
<line x1="1703" y1="414.4" x2="2397.2" y2="414.4"/>
<line x1="1703" y1="473.5" x2="2397.2" y2="473.5"/>
<line x1="1703" y1="532.6" x2="2397.2" y2="532.6"/>
<line x1="1703" y1="591.7" x2="2397.2" y2="591.7"/>
<line x1="1703" y1="650.8" x2="2397.2" y2="650.8"/>
</g>
<g fill="#de6a50">
<circle cx="1753.1" cy="341.8" r="4.2"/>
<circle cx="1758.6" cy="332.8" r="4.2"/>
<circle cx="1765.4" cy="334.8" r="4.2"/>
<circle cx="1768.8" cy="332.2" r="4.2"/>
<circle cx="1772.5" cy="339.7" r="4.2"/>
<circle cx="1779.7" cy="325.4" r="4.2"/>
<circle cx="1845.8" cy="407.5" r="4.2"/>
<circle cx="1860.5" cy="406.9" r="4.2"/>
<circle cx="1868.3" cy="404.8" r="4.2"/>
<circle cx="1885.5" cy="401.7" r="4.2"/>
<circle cx="1807.9" cy="424.9" r="4.2"/>
<circle cx="1821.2" cy="424.9" r="4.2"/>
<circle cx="1845.2" cy="433" r="4.2"/>
<circle cx="1899" cy="435.1" r="4.2"/>
<circle cx="1901.8" cy="446.8" r="4.2"/>
<circle cx="1784.4" cy="446.1" r="4.2"/>
<circle cx="1840.4" cy="451.5" r="4.2"/>
<circle cx="1934.6" cy="451.5" r="4.2"/>
<circle cx="1775.6" cy="464.1" r="4.2"/>
<circle cx="1798.1" cy="465.6" r="4.2"/>
<circle cx="1811.8" cy="463.5" r="4.2"/>
<circle cx="1852.7" cy="462.9" r="4.2"/>
<circle cx="1836.4" cy="473.4" r="4.2"/>
<circle cx="1788.9" cy="493.6" r="4.2"/>
<circle cx="1796.7" cy="490.7" r="4.2"/>
<circle cx="1787.9" cy="499.7" r="4.2"/>
<circle cx="1821.6" cy="501.4" r="4.2"/>
<circle cx="1830.8" cy="492.2" r="4.2"/>
<circle cx="1834.9" cy="496.9" r="4.2"/>
<circle cx="1836.4" cy="511.2" r="4.2"/>
<circle cx="1858" cy="520.2" r="4.2"/>
<circle cx="1920.9" cy="482.6" r="4.2"/>
<circle cx="1941.3" cy="487.1" r="4.2"/>
<circle cx="1904.5" cy="494.8" r="4.2"/>
<circle cx="1923.5" cy="494.8" r="4.2"/>
<circle cx="1922.3" cy="565.8" r="4.2"/>
<circle cx="1948.5" cy="568.6" r="4.2"/>
<circle cx="1961.8" cy="581.9" r="4.2"/>
<circle cx="1957.7" cy="589.5" r="4.2"/>
<circle cx="1973.1" cy="574.8" r="4.2"/>
<circle cx="1988.8" cy="563.5" r="4.2"/>
<circle cx="2012.6" cy="547.8" r="4.2"/>
<circle cx="1999.7" cy="605.5" r="4.2"/>
<circle cx="2005.2" cy="610.6" r="4.2"/>
<circle cx="2008.9" cy="620.8" r="4.2"/>
<circle cx="2021.2" cy="620.2" r="4.2"/>
<circle cx="2048.2" cy="608.5" r="4.2"/>
<circle cx="2079.5" cy="547.8" r="4.2"/>
<circle cx="2092.8" cy="552.7" r="4.2"/>
<circle cx="2092.8" cy="566.2" r="4.2"/>
<circle cx="2082.6" cy="570.3" r="4.2"/>
<circle cx="2071.9" cy="589.5" r="4.2"/>
<circle cx="2088.3" cy="590.7" r="4.2"/>
<circle cx="2076" cy="616.1" r="4.2"/>
<circle cx="2103" cy="611.2" r="4.2"/>
<circle cx="2112.2" cy="602.4" r="4.2"/>
<circle cx="2091.2" cy="637.2" r="4.2"/>
<circle cx="2069.9" cy="344.5" r="4.2"/>
<circle cx="2072" cy="348.6" r="4.2"/>
<circle cx="2108.2" cy="349.2" r="4.2"/>
<circle cx="2154.4" cy="353.9" r="4.2"/>
<circle cx="2179.4" cy="355.4" r="4.2"/>
<circle cx="2048.8" cy="356.4" r="4.2"/>
<circle cx="2029.6" cy="363.6" r="4.2"/>
<circle cx="2058.7" cy="363.6" r="4.2"/>
<circle cx="2103.7" cy="364.2" r="4.2"/>
<circle cx="2124.6" cy="370.3" r="4.2"/>
<circle cx="2022.9" cy="375.2" r="4.2"/>
<circle cx="2073.4" cy="373.2" r="4.2"/>
<circle cx="2149.7" cy="378.5" r="4.2"/>
<circle cx="2165.5" cy="385" r="4.2"/>
<circle cx="1981.3" cy="385" r="4.2"/>
<circle cx="2077.5" cy="384.6" r="4.2"/>
<circle cx="2041.9" cy="390.2" r="4.2"/>
<circle cx="2093.9" cy="390.8" r="4.2"/>
<circle cx="2147.1" cy="391.2" r="4.2"/>
<circle cx="2059.7" cy="401" r="4.2"/>
<circle cx="2071.4" cy="411.2" r="4.2"/>
<circle cx="2119.6" cy="405.1" r="4.2"/>
<circle cx="2123.7" cy="408.6" r="4.2"/>
<circle cx="2124.6" cy="415.3" r="4.2"/>
<circle cx="2126.2" cy="428.8" r="4.2"/>
<circle cx="2073" cy="435" r="4.2"/>
<circle cx="2075" cy="448.5" r="4.2"/>
<circle cx="2111.9" cy="457.1" r="4.2"/>
<circle cx="2122.5" cy="461.6" r="4.2"/>
<circle cx="2165.5" cy="454" r="4.2"/>
<circle cx="2141.5" cy="471.4" r="4.2"/>
<circle cx="2168.1" cy="486.7" r="4.2"/>
<circle cx="2176.3" cy="493.9" r="4.2"/>
<circle cx="2150.3" cy="511.9" r="4.2"/>
<circle cx="2143" cy="520.9" r="4.2"/>
<circle cx="2034.5" cy="483.7" r="4.2"/>
<circle cx="1991.6" cy="498" r="4.2"/>
<circle cx="2050.9" cy="492.9" r="4.2"/>
<circle cx="2067.3" cy="492.3" r="4.2"/>
<circle cx="2081.2" cy="494.3" r="4.2"/>
<circle cx="2079.5" cy="501.7" r="4.2"/>
<circle cx="2082.8" cy="505.8" r="4.2"/>
<circle cx="2091.8" cy="522.5" r="4.2"/>
<circle cx="2060.3" cy="535.2" r="4.2"/>
<circle cx="2171.2" cy="563.9" r="4.2"/>
<circle cx="2129.3" cy="577.8" r="4.2"/>
<circle cx="2141.5" cy="579.8" r="4.2"/>
<circle cx="2161" cy="578.2" r="4.2"/>
<circle cx="2248.9" cy="342.5" r="4.2"/>
<circle cx="2258.1" cy="353.9" r="4.2"/>
<circle cx="2267.7" cy="372.4" r="4.2"/>
<circle cx="2250.5" cy="401.4" r="4.2"/>
<circle cx="2268.3" cy="414.1" r="4.2"/>
<circle cx="2284.1" cy="413.3" r="4.2"/>
<circle cx="2288.2" cy="417.4" r="4.2"/>
<circle cx="2305.8" cy="413.3" r="4.2"/>
<circle cx="2299" cy="378.5" r="4.2"/>
<circle cx="2310.7" cy="380.5" r="4.2"/>
<circle cx="2325.6" cy="364.6" r="4.2"/>
<circle cx="2341.4" cy="352.3" r="4.2"/>
<circle cx="2341.4" cy="356.4" r="4.2"/>
<circle cx="2354.9" cy="358.8" r="4.2"/>
<circle cx="2356.3" cy="374.4" r="4.2"/>
<circle cx="2345" cy="420.2" r="4.2"/>
<circle cx="2265.7" cy="421.9" r="4.2"/>
<circle cx="2328.7" cy="423.3" r="4.2"/>
<circle cx="2293.5" cy="435" r="4.2"/>
<circle cx="2262.8" cy="441.7" r="4.2"/>
<circle cx="2344" cy="441.7" r="4.2"/>
<circle cx="2344.6" cy="446.8" r="4.2"/>
<circle cx="2191.6" cy="457.5" r="4.2"/>
<circle cx="2189.6" cy="463.6" r="4.2"/>
<circle cx="2186.5" cy="467.3" r="4.2"/>
<circle cx="2276.5" cy="465.7" r="4.2"/>
<circle cx="2300.4" cy="473" r="4.2"/>
<circle cx="2306.2" cy="470.4" r="4.2"/>
<circle cx="2328.3" cy="471" r="4.2"/>
<circle cx="2196.1" cy="484.7" r="4.2"/>
<circle cx="2248.5" cy="497" r="4.2"/>
<circle cx="2342" cy="486.1" r="4.2"/>
<circle cx="2183" cy="509.8" r="4.2"/>
<circle cx="2195.3" cy="527" r="4.2"/>
<circle cx="2305.2" cy="521.5" r="4.2"/>
<circle cx="2316.8" cy="534.8" r="4.2"/>
<circle cx="2330.3" cy="531.7" r="4.2"/>
<circle cx="2348.7" cy="532.4" r="4.2"/>
<circle cx="2356.9" cy="533.2" r="4.2"/>
<circle cx="2368.6" cy="527" r="4.2"/>
<circle cx="2377.4" cy="520.1" r="4.2"/>
<circle cx="2381.5" cy="518.9" r="4.2"/>
<circle cx="2339.9" cy="544" r="4.2"/>
<circle cx="2348.1" cy="544" r="4.2"/>
<circle cx="2356.9" cy="542" r="4.2"/>
<circle cx="2344.6" cy="554.9" r="4.2"/>
<circle cx="2340.5" cy="563.5" r="4.2"/>
<circle cx="2330.7" cy="570" r="4.2"/>
<circle cx="2293.5" cy="552.2" r="4.2"/>
<circle cx="2277.1" cy="565.1" r="4.2"/>
<circle cx="2191.2" cy="548.1" r="4.2"/>
<circle cx="2210.4" cy="556.9" r="4.2"/>
<circle cx="2195.3" cy="567.1" r="4.2"/>
<circle cx="2194.7" cy="578.2" r="4.2"/>
<circle cx="2230.1" cy="577.8" r="4.2"/>
<circle cx="2218.6" cy="579.4" r="4.2"/>
<circle cx="2205.9" cy="390.2" r="4.2"/>
<circle cx="2300.5" cy="581.4" r="4.2"/>
<circle cx="2269.1" cy="586.6" r="4.2"/>
<circle cx="2129.1" cy="578.5" r="4.2"/>
<circle cx="2221.5" cy="582.4" r="4.2"/>
<circle cx="2229.8" cy="591.6" r="4.2"/>
<circle cx="2125.2" cy="612.2" r="4.2"/>
<circle cx="2128.1" cy="622.8" r="4.2"/>
<circle cx="2151.2" cy="603.9" r="4.2"/>
<circle cx="2207.1" cy="598.2" r="4.2"/>
<circle cx="2192.6" cy="608.9" r="4.2"/>
<circle cx="2226.7" cy="606.4" r="4.2"/>
</g>
<g fill="#0cb6e2">
<circle cx="1811" cy="414.4" r="4.2"/>
<circle cx="1792.4" cy="421.8" r="4.2"/>
<circle cx="1791.3" cy="426.9" r="4.2"/>
<circle cx="1750" cy="448.8" r="4.2"/>
<circle cx="1792.6" cy="446.1" r="4.2"/>
<circle cx="1723.4" cy="459.8" r="4.2"/>
<circle cx="1730" cy="463.5" r="4.2"/>
<circle cx="1727.9" cy="469.7" r="4.2"/>
<circle cx="1740.8" cy="454.3" r="4.2"/>
<circle cx="1761.9" cy="464.6" r="4.2"/>
<circle cx="1759.8" cy="470.7" r="4.2"/>
<circle cx="1741.8" cy="480.9" r="4.2"/>
<circle cx="1751" cy="477.2" r="4.2"/>
<circle cx="1760.2" cy="478.9" r="4.2"/>
<circle cx="1768.8" cy="477.2" r="4.2"/>
<circle cx="1769.5" cy="481.3" r="4.2"/>
<circle cx="1805.9" cy="470.7" r="4.2"/>
<circle cx="1778.7" cy="494.2" r="4.2"/>
<circle cx="1832.9" cy="507.9" r="4.2"/>
<circle cx="1858.9" cy="487.5" r="4.2"/>
<circle cx="1842.5" cy="528" r="4.2"/>
<circle cx="1866.2" cy="530" r="4.2"/>
<circle cx="1880.5" cy="525.5" r="4.2"/>
<circle cx="1890.8" cy="531" r="4.2"/>
<circle cx="1880.5" cy="565.8" r="4.2"/>
<circle cx="1890.8" cy="572" r="4.2"/>
<circle cx="1900.4" cy="573.4" r="4.2"/>
<circle cx="1898.4" cy="576.7" r="4.2"/>
<circle cx="2004.8" cy="544.5" r="4.2"/>
<circle cx="2018.7" cy="554.7" r="4.2"/>
<circle cx="2033" cy="570.7" r="4.2"/>
<circle cx="2018.7" cy="596.3" r="4.2"/>
<circle cx="2031.4" cy="595.2" r="4.2"/>
<circle cx="2035.5" cy="613.2" r="4.2"/>
<circle cx="2040.6" cy="609.6" r="4.2"/>
<circle cx="2056.4" cy="632.1" r="4.2"/>
<circle cx="2093.2" cy="543.1" r="4.2"/>
<circle cx="2098.9" cy="625.9" r="4.2"/>
<circle cx="2078.5" cy="641.3" r="4.2"/>
<circle cx="2104" cy="651.5" r="4.2"/>
<circle cx="2117.3" cy="640.3" r="4.2"/>
<circle cx="2176.9" cy="272.5" r="4.2"/>
<circle cx="2168.7" cy="277" r="4.2"/>
<circle cx="2159.3" cy="280.3" r="4.2"/>
<circle cx="2150.7" cy="277.6" r="4.2"/>
<circle cx="2142.1" cy="287.9" r="4.2"/>
<circle cx="2123.1" cy="293" r="4.2"/>
<circle cx="2103.3" cy="298.7" r="4.2"/>
<circle cx="2108.8" cy="302.2" r="4.2"/>
<circle cx="2100.6" cy="311" r="4.2"/>
<circle cx="2099.2" cy="319.2" r="4.2"/>
<circle cx="2131.9" cy="315.5" r="4.2"/>
<circle cx="2067.9" cy="315.1" r="4.2"/>
<circle cx="2058.7" cy="320" r="4.2"/>
<circle cx="2066.9" cy="331.4" r="4.2"/>
<circle cx="2080.8" cy="332.3" r="4.2"/>
<circle cx="2161.4" cy="325.3" r="4.2"/>
<circle cx="2153.8" cy="334.9" r="4.2"/>
<circle cx="2119.6" cy="343.1" r="4.2"/>
<circle cx="2139.5" cy="344.1" r="4.2"/>
<circle cx="2145.6" cy="361.5" r="4.2"/>
<circle cx="1997.7" cy="372.8" r="4.2"/>
<circle cx="2004.5" cy="372.8" r="4.2"/>
<circle cx="2163" cy="380.9" r="4.2"/>
<circle cx="1994.8" cy="394.9" r="4.2"/>
<circle cx="2010.6" cy="403.5" r="4.2"/>
<circle cx="2151.8" cy="428.8" r="4.2"/>
<circle cx="2112.3" cy="434.1" r="4.2"/>
<circle cx="2150.3" cy="474.5" r="4.2"/>
<circle cx="2022.9" cy="430.5" r="4.2"/>
<circle cx="2046.4" cy="428.4" r="4.2"/>
<circle cx="2013.7" cy="440.3" r="4.2"/>
<circle cx="2033.1" cy="446.8" r="4.2"/>
<circle cx="1990.7" cy="452.6" r="4.2"/>
<circle cx="2038.2" cy="466.3" r="4.2"/>
<circle cx="2034.5" cy="471" r="4.2"/>
<circle cx="2034.1" cy="476.5" r="4.2"/>
<circle cx="2025.9" cy="479.2" r="4.2"/>
<circle cx="2034.1" cy="490.2" r="4.2"/>
<circle cx="2089.8" cy="486.7" r="4.2"/>
<circle cx="2093.9" cy="488.8" r="4.2"/>
<circle cx="2046.4" cy="516.4" r="4.2"/>
<circle cx="2004.5" cy="530.7" r="4.2"/>
<circle cx="2022.9" cy="532.4" r="4.2"/>
<circle cx="2146.2" cy="543.4" r="4.2"/>
<circle cx="2157.3" cy="551.6" r="4.2"/>
<circle cx="2182.4" cy="279.1" r="4.2"/>
<circle cx="2184.4" cy="268.8" r="4.2"/>
<circle cx="2195.3" cy="264.7" r="4.2"/>
<circle cx="2201.8" cy="260.6" r="4.2"/>
<circle cx="2209" cy="259.8" r="4.2"/>
<circle cx="2194.7" cy="323.7" r="4.2"/>
<circle cx="2187.9" cy="332.9" r="4.2"/>
<circle cx="2225.4" cy="336.3" r="4.2"/>
<circle cx="2193.6" cy="349.8" r="4.2"/>
<circle cx="2199.4" cy="363.6" r="4.2"/>
<circle cx="2205.5" cy="383.4" r="4.2"/>
<circle cx="2208.4" cy="393.2" r="4.2"/>
<circle cx="2203.9" cy="419.8" r="4.2"/>
<circle cx="2205.9" cy="426" r="4.2"/>
<circle cx="2194.7" cy="426" r="4.2"/>
<circle cx="2187.5" cy="428.8" r="4.2"/>
<circle cx="2227.4" cy="462.2" r="4.2"/>
<circle cx="2224.7" cy="472.4" r="4.2"/>
<circle cx="2201.8" cy="477.1" r="4.2"/>
<circle cx="2208" cy="490.8" r="4.2"/>
<circle cx="2337.3" cy="488.2" r="4.2"/>
<circle cx="2260.1" cy="513.3" r="4.2"/>
<circle cx="2187.9" cy="522.5" r="4.2"/>
<circle cx="2242.3" cy="526.2" r="4.2"/>
<circle cx="2254" cy="532.4" r="4.2"/>
<circle cx="2324.2" cy="567.1" r="4.2"/>
<circle cx="2298" cy="569.6" r="4.2"/>
<circle cx="2277.5" cy="573.7" r="4.2"/>
<circle cx="2212.5" cy="541.4" r="4.2"/>
<circle cx="2188.5" cy="549.1" r="4.2"/>
<circle cx="2230.5" cy="563" r="4.2"/>
<circle cx="2240.7" cy="558.3" r="4.2"/>
<circle cx="2249.3" cy="561.8" r="4.2"/>
<circle cx="2254.6" cy="554.9" r="4.2"/>
<circle cx="2198.8" cy="568" r="4.2"/>
<circle cx="2202.9" cy="573.3" r="4.2"/>
<circle cx="2277.9" cy="576.6" r="4.2"/>
<circle cx="2179.7" cy="584.7" r="4.2"/>
<circle cx="2151.2" cy="588.5" r="4.2"/>
<circle cx="2143.1" cy="608.4" r="4.2"/>
<circle cx="2145.4" cy="620.9" r="4.2"/>
<circle cx="2198.4" cy="603.9" r="4.2"/>
<circle cx="2187.8" cy="615.5" r="4.2"/>
<circle cx="2193.2" cy="623.8" r="4.2"/>
<circle cx="2177.2" cy="630.5" r="4.2"/>
<circle cx="2220.5" cy="607.4" r="4.2"/>
<circle cx="2235" cy="605.5" r="4.2"/>
<circle cx="2215.1" cy="627" r="4.2"/>
<circle cx="2122.3" cy="644" r="4.2"/>
<circle cx="2128.1" cy="645" r="4.2"/>
<circle cx="2130" cy="646.3" r="4.2"/>
</g>
<g stroke="#1e1c1d" stroke-width="2.5" fill="none">
<path d="M1690.5 239.7H2401.2V684.3" stroke-linejoin="miter"/>
<line x1="1690.5" y1="671.8" x2="2401.2" y2="671.8"/>
<line x1="1703" y1="239.7" x2="1703" y2="684.3"/>
<line x1="1740.0" y1="671.8" x2="1740.0" y2="684.3"/>
<line x1="1798.7" y1="671.8" x2="1798.7" y2="684.3"/>
<line x1="1857.4" y1="671.8" x2="1857.4" y2="684.3"/>
<line x1="1916.1" y1="671.8" x2="1916.1" y2="684.3"/>
<line x1="1974.8" y1="671.8" x2="1974.8" y2="684.3"/>
<line x1="2033.5" y1="671.8" x2="2033.5" y2="684.3"/>
<line x1="2092.2" y1="671.8" x2="2092.2" y2="684.3"/>
<line x1="2150.9" y1="671.8" x2="2150.9" y2="684.3"/>
<line x1="2209.6" y1="671.8" x2="2209.6" y2="684.3"/>
<line x1="2268.3" y1="671.8" x2="2268.3" y2="684.3"/>
<line x1="2327.0" y1="671.8" x2="2327.0" y2="684.3"/>
<line x1="2385.7" y1="671.8" x2="2385.7" y2="684.3"/>
<line x1="1690.5" y1="296.2" x2="1703" y2="296.2"/>
<line x1="1690.5" y1="355.3" x2="1703" y2="355.3"/>
<line x1="1690.5" y1="414.4" x2="1703" y2="414.4"/>
<line x1="1690.5" y1="473.5" x2="1703" y2="473.5"/>
<line x1="1690.5" y1="532.6" x2="1703" y2="532.6"/>
<line x1="1690.5" y1="591.7" x2="1703" y2="591.7"/>
<line x1="1690.5" y1="650.8" x2="1703" y2="650.8"/>
</g>
<text transform="translate(1740.00,709.80) scale(0.91,1)" class="s" text-anchor="middle" style="font-size:27.2px" ><tspan>−</tspan><tspan dx="3.5">3.0</tspan></text>
<text transform="translate(1798.70,709.80) scale(0.91,1)" class="s" text-anchor="middle" style="font-size:27.2px" ><tspan>−</tspan><tspan dx="3.5">2.5</tspan></text>
<text transform="translate(1857.40,709.80) scale(0.91,1)" class="s" text-anchor="middle" style="font-size:27.2px" ><tspan>−</tspan><tspan dx="3.5">2.0</tspan></text>
<text transform="translate(1916.10,709.80) scale(0.91,1)" class="s" text-anchor="middle" style="font-size:27.2px" ><tspan>−</tspan><tspan dx="3.5">1.5</tspan></text>
<text transform="translate(1974.80,709.80) scale(0.91,1)" class="s" text-anchor="middle" style="font-size:27.2px" ><tspan>−</tspan><tspan dx="3.5">1.0</tspan></text>
<text transform="translate(2033.50,709.80) scale(0.91,1)" class="s" text-anchor="middle" style="font-size:27.2px" ><tspan>−</tspan><tspan dx="3.5">0.5</tspan></text>
<text transform="translate(2092.20,709.80) scale(0.91,1)" class="s" text-anchor="middle" style="font-size:27.2px" >0.0</text>
<text transform="translate(2150.90,709.80) scale(0.91,1)" class="s" text-anchor="middle" style="font-size:27.2px" >0.5</text>
<text transform="translate(2209.60,709.80) scale(0.91,1)" class="s" text-anchor="middle" style="font-size:27.2px" >1.0</text>
<text transform="translate(2268.30,709.80) scale(0.91,1)" class="s" text-anchor="middle" style="font-size:27.2px" >1.5</text>
<text transform="translate(2327.00,709.80) scale(0.91,1)" class="s" text-anchor="middle" style="font-size:27.2px" >2.0</text>
<text transform="translate(2385.70,709.80) scale(0.91,1)" class="s" text-anchor="middle" style="font-size:27.2px" >2.5</text>
<text transform="translate(1684.50,302.90) scale(0.91,1)" class="s" text-anchor="end" style="font-size:27.2px" >3</text>
<text transform="translate(1684.50,362.00) scale(0.91,1)" class="s" text-anchor="end" style="font-size:27.2px" >2</text>
<text transform="translate(1684.50,421.10) scale(0.91,1)" class="s" text-anchor="end" style="font-size:27.2px" >1</text>
<text transform="translate(1684.50,480.20) scale(0.91,1)" class="s" text-anchor="end" style="font-size:27.2px" >0</text>
<text transform="translate(1684.50,539.30) scale(0.91,1)" class="s" text-anchor="end" style="font-size:27.2px" ><tspan>−</tspan><tspan dx="3.5">1</tspan></text>
<text transform="translate(1684.50,598.40) scale(0.91,1)" class="s" text-anchor="end" style="font-size:27.2px" ><tspan>−</tspan><tspan dx="3.5">2</tspan></text>
<text transform="translate(1684.50,657.50) scale(0.91,1)" class="s" text-anchor="end" style="font-size:27.2px" ><tspan>−</tspan><tspan dx="3.5">3</tspan></text>
<text transform="translate(1824.00,101.00) scale(0.966,1)" class="s" text-anchor="start" style="font-size:39.6px" >After removing batch effect</text>
<circle cx="1719.3" cy="159" r="12.3" fill="#de6a50"/>
<text transform="translate(1740.30,165.00) scale(0.95,1)" class="s" text-anchor="start" style="font-size:26.6px" >TCGA-PAAD</text>
<circle cx="1719.3" cy="200" r="12.3" fill="#0cb6e2"/>
<text transform="translate(1740.30,210.70) scale(0.95,1)" class="s" text-anchor="start" style="font-size:26.6px" >GSE183795</text>
<text transform="translate(2006.00,753.30) scale(0.92,1)" class="s" text-anchor="start" style="font-size:31.5px" >UMAP1</text>
<text transform="translate(1653.00,474.00) rotate(-90) scale(0.92,1)" class="s" text-anchor="middle" style="font-size:31.5px" >UMAP2</text>
</svg></body></html>
